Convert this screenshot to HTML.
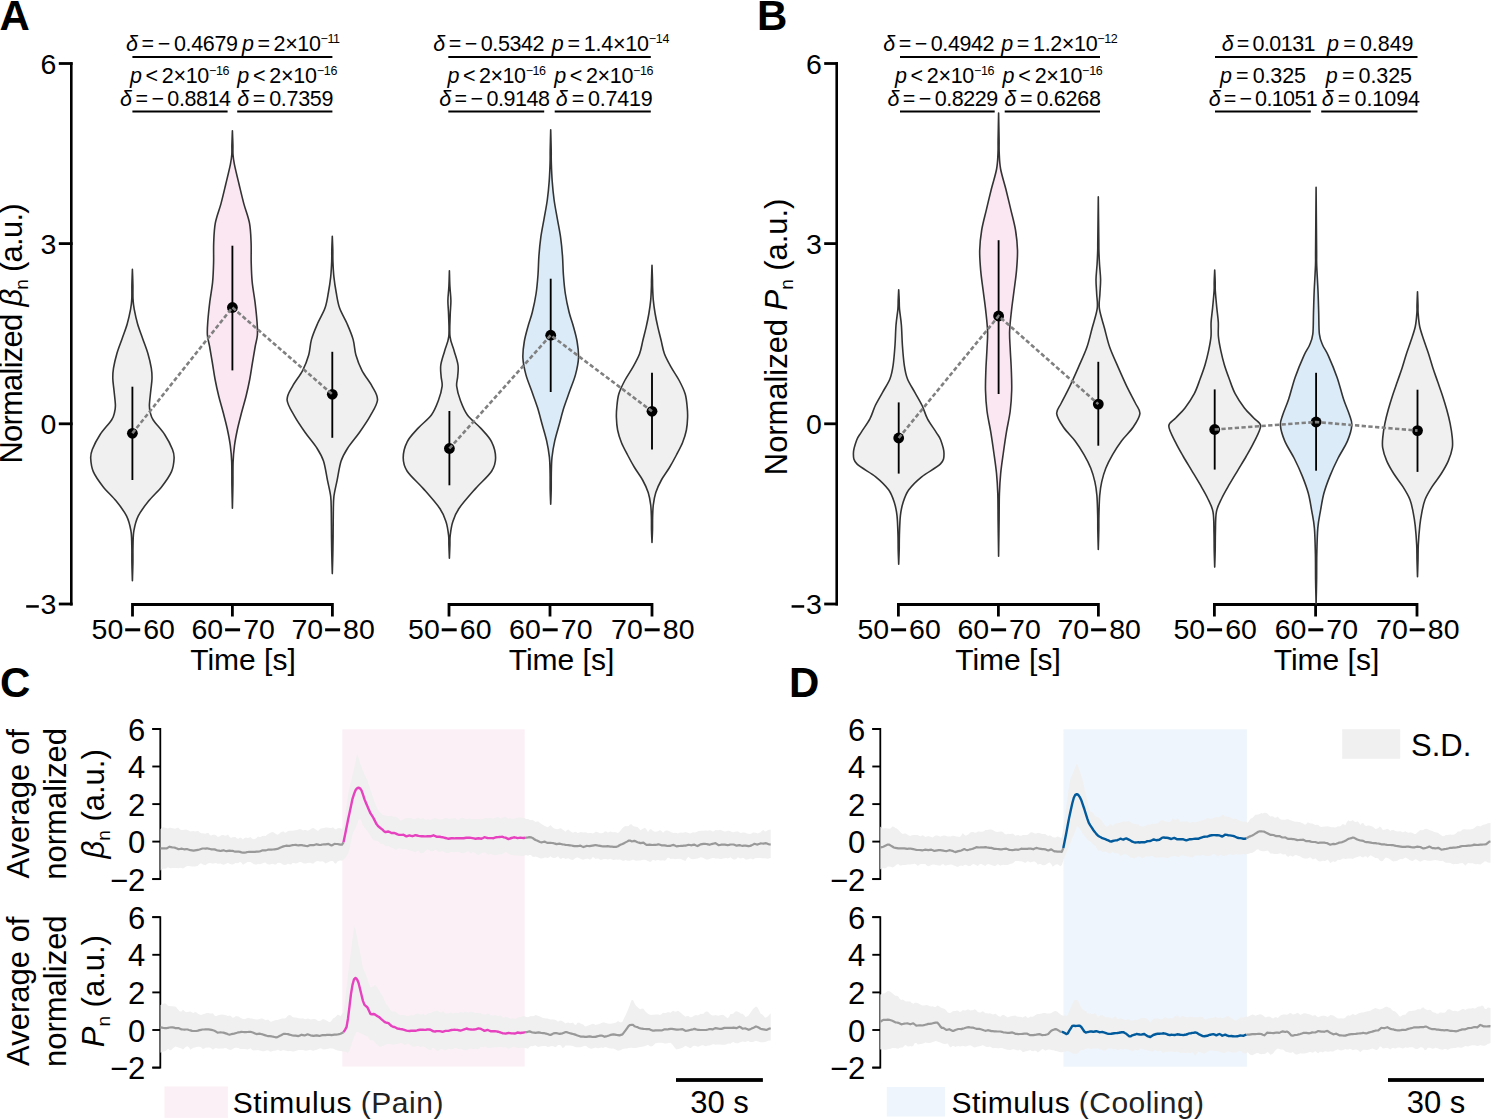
<!DOCTYPE html><html><head><meta charset="utf-8"><style>html,body{margin:0;padding:0;background:#fff;width:1500px;height:1120px;overflow:hidden}svg{display:block}text{font-family:"Liberation Sans", sans-serif}</style></head><body>
<svg width="1500" height="1120" viewBox="0 0 1500 1120">
<rect width="1500" height="1120" fill="#fff"/>
<text x="-0.5" y="30" font-size="42" font-weight="bold">A</text>
<text x="757" y="30" font-size="42" font-weight="bold">B</text>
<text x="0" y="697" font-size="42" font-weight="bold">C</text>
<text x="789" y="697" font-size="42" font-weight="bold">D</text>
<line x1="71.3" y1="62.2" x2="71.3" y2="605.4" stroke="#000" stroke-width="2.6"/>
<line x1="58.8" y1="63.5" x2="72.6" y2="63.5" stroke="#000" stroke-width="2.8"/>
<text x="56.4" y="73.8" font-size="28.5" text-anchor="end">6</text>
<line x1="58.8" y1="243.6" x2="72.6" y2="243.6" stroke="#000" stroke-width="2.8"/>
<text x="56.4" y="253.9" font-size="28.5" text-anchor="end">3</text>
<line x1="58.8" y1="423.8" x2="72.6" y2="423.8" stroke="#000" stroke-width="2.8"/>
<text x="56.4" y="434.1" font-size="28.5" text-anchor="end">0</text>
<line x1="58.8" y1="604.0" x2="72.6" y2="604.0" stroke="#000" stroke-width="2.8"/>
<text x="56.4" y="614.3" font-size="28.5" text-anchor="end">3</text>
<rect x="26.2" y="605.2" width="12.6" height="2.5" fill="#000"/>
<line x1="836.7" y1="62.2" x2="836.7" y2="605.4" stroke="#000" stroke-width="2.6"/>
<line x1="824.2" y1="63.5" x2="838.0" y2="63.5" stroke="#000" stroke-width="2.8"/>
<text x="821.8" y="73.8" font-size="28.5" text-anchor="end">6</text>
<line x1="824.2" y1="243.6" x2="838.0" y2="243.6" stroke="#000" stroke-width="2.8"/>
<text x="821.8" y="253.9" font-size="28.5" text-anchor="end">3</text>
<line x1="824.2" y1="423.8" x2="838.0" y2="423.8" stroke="#000" stroke-width="2.8"/>
<text x="821.8" y="434.1" font-size="28.5" text-anchor="end">0</text>
<line x1="824.2" y1="604.0" x2="838.0" y2="604.0" stroke="#000" stroke-width="2.8"/>
<text x="821.8" y="614.3" font-size="28.5" text-anchor="end">3</text>
<rect x="791.6" y="605.2" width="12.6" height="2.5" fill="#000"/>
<path d="M132.5,616.5 V604.5 H332.4 V616.5" fill="none" stroke="#000" stroke-width="2.8" stroke-linejoin="miter"/>
<line x1="232.4" y1="604.5" x2="232.4" y2="616.5" stroke="#000" stroke-width="2.8"/>
<text x="123.3" y="639.2" font-size="28.5" text-anchor="end">50</text>
<rect x="125.2" y="628.3" width="15" height="3" fill="#000"/>
<text x="143.2" y="639.2" font-size="28.5">60</text>
<text x="223.2" y="639.2" font-size="28.5" text-anchor="end">60</text>
<rect x="225.1" y="628.3" width="15" height="3" fill="#000"/>
<text x="243.2" y="639.2" font-size="28.5">70</text>
<text x="323.2" y="639.2" font-size="28.5" text-anchor="end">70</text>
<rect x="325.1" y="628.3" width="15" height="3" fill="#000"/>
<text x="343.1" y="639.2" font-size="28.5">80</text>
<text x="243.0" y="670" font-size="30" text-anchor="middle">Time [s]</text>
<path d="M449.0,616.5 V604.5 H652.0 V616.5" fill="none" stroke="#000" stroke-width="2.8" stroke-linejoin="miter"/>
<line x1="550.0" y1="604.5" x2="550.0" y2="616.5" stroke="#000" stroke-width="2.8"/>
<text x="439.8" y="639.2" font-size="28.5" text-anchor="end">50</text>
<rect x="441.7" y="628.3" width="15" height="3" fill="#000"/>
<text x="459.8" y="639.2" font-size="28.5">60</text>
<text x="540.8" y="639.2" font-size="28.5" text-anchor="end">60</text>
<rect x="542.7" y="628.3" width="15" height="3" fill="#000"/>
<text x="560.8" y="639.2" font-size="28.5">70</text>
<text x="642.8" y="639.2" font-size="28.5" text-anchor="end">70</text>
<rect x="644.7" y="628.3" width="15" height="3" fill="#000"/>
<text x="662.8" y="639.2" font-size="28.5">80</text>
<text x="561.5" y="670" font-size="30" text-anchor="middle">Time [s]</text>
<path d="M898.4,616.5 V604.5 H1098.4 V616.5" fill="none" stroke="#000" stroke-width="2.8" stroke-linejoin="miter"/>
<line x1="998.4" y1="604.5" x2="998.4" y2="616.5" stroke="#000" stroke-width="2.8"/>
<text x="889.2" y="639.2" font-size="28.5" text-anchor="end">50</text>
<rect x="891.1" y="628.3" width="15" height="3" fill="#000"/>
<text x="909.1" y="639.2" font-size="28.5">60</text>
<text x="989.2" y="639.2" font-size="28.5" text-anchor="end">60</text>
<rect x="991.1" y="628.3" width="15" height="3" fill="#000"/>
<text x="1009.1" y="639.2" font-size="28.5">70</text>
<text x="1089.2" y="639.2" font-size="28.5" text-anchor="end">70</text>
<rect x="1091.1" y="628.3" width="15" height="3" fill="#000"/>
<text x="1109.2" y="639.2" font-size="28.5">80</text>
<text x="1008.0" y="670" font-size="30" text-anchor="middle">Time [s]</text>
<path d="M1214.4,616.5 V604.5 H1417.0 V616.5" fill="none" stroke="#000" stroke-width="2.8" stroke-linejoin="miter"/>
<line x1="1315.6" y1="604.5" x2="1315.6" y2="616.5" stroke="#000" stroke-width="2.8"/>
<text x="1205.2" y="639.2" font-size="28.5" text-anchor="end">50</text>
<rect x="1207.1" y="628.3" width="15" height="3" fill="#000"/>
<text x="1225.2" y="639.2" font-size="28.5">60</text>
<text x="1306.4" y="639.2" font-size="28.5" text-anchor="end">60</text>
<rect x="1308.3" y="628.3" width="15" height="3" fill="#000"/>
<text x="1326.3" y="639.2" font-size="28.5">70</text>
<text x="1407.8" y="639.2" font-size="28.5" text-anchor="end">70</text>
<rect x="1409.7" y="628.3" width="15" height="3" fill="#000"/>
<text x="1427.8" y="639.2" font-size="28.5">80</text>
<text x="1326.5" y="670" font-size="30" text-anchor="middle">Time [s]</text>
<path d="M132.40,269.40 C132.48,272.00 132.80,280.08 132.90,285.00 C133.00,289.92 132.78,294.87 133.00,298.90 C133.22,302.93 133.43,305.02 134.20,309.20 C134.97,313.38 136.18,319.08 137.60,324.00 C139.02,328.92 140.98,333.78 142.70,338.70 C144.42,343.62 146.47,348.58 147.90,353.50 C149.33,358.42 150.62,364.02 151.30,368.20 C151.98,372.38 152.08,374.90 152.00,378.60 C151.92,382.30 151.23,385.98 150.80,390.40 C150.37,394.82 149.48,401.42 149.40,405.10 C149.32,408.78 149.67,410.02 150.30,412.50 C150.93,414.98 150.78,416.30 153.20,420.00 C155.62,423.70 161.58,429.78 164.80,434.70 C168.02,439.62 170.95,445.57 172.50,449.50 C174.05,453.43 174.27,454.62 174.10,458.30 C173.93,461.98 173.53,466.92 171.50,471.60 C169.47,476.28 165.72,481.48 161.90,486.40 C158.08,491.32 152.53,496.18 148.60,501.10 C144.67,506.02 140.75,510.98 138.30,515.90 C135.85,520.82 134.78,525.68 133.90,530.60 C133.02,535.52 133.17,540.00 133.00,545.40 C132.83,550.80 133.00,557.10 132.90,563.00 C132.80,568.90 132.48,577.83 132.40,580.80 L132.40,580.80 C132.32,577.83 132.00,568.90 131.90,563.00 C131.80,557.10 131.97,550.80 131.80,545.40 C131.63,540.00 131.78,535.52 130.90,530.60 C130.02,525.68 128.95,520.82 126.50,515.90 C124.05,510.98 120.13,506.02 116.20,501.10 C112.27,496.18 106.72,491.32 102.90,486.40 C99.08,481.48 95.33,476.28 93.30,471.60 C91.27,466.92 90.87,461.98 90.70,458.30 C90.53,454.62 90.75,453.43 92.30,449.50 C93.85,445.57 96.78,439.62 100.00,434.70 C103.22,429.78 109.18,423.70 111.60,420.00 C114.02,416.30 113.87,414.98 114.50,412.50 C115.13,410.02 115.48,408.78 115.40,405.10 C115.32,401.42 114.43,394.82 114.00,390.40 C113.57,385.98 112.88,382.30 112.80,378.60 C112.72,374.90 112.82,372.38 113.50,368.20 C114.18,364.02 115.47,358.42 116.90,353.50 C118.33,348.58 120.38,343.62 122.10,338.70 C123.82,333.78 125.78,328.92 127.20,324.00 C128.62,319.08 129.83,313.38 130.60,309.20 C131.37,305.02 131.58,302.93 131.80,298.90 C132.02,294.87 131.80,289.92 131.90,285.00 C132.00,280.08 132.32,272.00 132.40,269.40 Z" fill="#f0f0f0" stroke="#333" stroke-width="1.6" stroke-linejoin="round"/>
<path d="M232.40,130.90 C232.48,133.25 232.80,141.07 232.90,145.00 C233.00,148.93 232.75,151.28 233.00,154.50 C233.25,157.72 233.40,159.38 234.40,164.30 C235.40,169.22 237.43,177.45 239.00,184.00 C240.57,190.55 242.05,197.07 243.80,203.60 C245.55,210.13 248.28,216.65 249.50,223.20 C250.72,229.75 250.82,236.35 251.10,242.90 C251.38,249.45 251.02,255.95 251.20,262.50 C251.38,269.05 251.57,275.65 252.20,282.20 C252.83,288.75 254.20,295.25 255.00,301.80 C255.80,308.35 256.60,315.97 257.00,321.50 C257.40,327.03 257.70,330.83 257.40,335.00 C257.10,339.17 256.03,341.83 255.20,346.50 C254.37,351.17 253.32,357.50 252.40,363.00 C251.48,368.50 250.75,374.00 249.70,379.50 C248.65,385.00 247.45,390.50 246.10,396.00 C244.75,401.50 243.03,407.00 241.60,412.50 C240.17,418.00 238.68,423.50 237.50,429.00 C236.32,434.50 235.23,440.00 234.50,445.50 C233.77,451.00 233.37,455.42 233.10,462.00 C232.83,468.58 233.02,477.30 232.90,485.00 C232.78,492.70 232.48,504.33 232.40,508.20 L232.40,508.20 C232.32,504.33 232.02,492.70 231.90,485.00 C231.78,477.30 231.97,468.58 231.70,462.00 C231.43,455.42 231.03,451.00 230.30,445.50 C229.57,440.00 228.48,434.50 227.30,429.00 C226.12,423.50 224.63,418.00 223.20,412.50 C221.77,407.00 220.05,401.50 218.70,396.00 C217.35,390.50 216.15,385.00 215.10,379.50 C214.05,374.00 213.32,368.50 212.40,363.00 C211.48,357.50 210.43,351.17 209.60,346.50 C208.77,341.83 207.70,339.17 207.40,335.00 C207.10,330.83 207.40,327.03 207.80,321.50 C208.20,315.97 209.00,308.35 209.80,301.80 C210.60,295.25 211.97,288.75 212.60,282.20 C213.23,275.65 213.42,269.05 213.60,262.50 C213.78,255.95 213.42,249.45 213.70,242.90 C213.98,236.35 214.08,229.75 215.30,223.20 C216.52,216.65 219.25,210.13 221.00,203.60 C222.75,197.07 224.23,190.55 225.80,184.00 C227.37,177.45 229.40,169.22 230.40,164.30 C231.40,159.38 231.55,157.72 231.80,154.50 C232.05,151.28 231.80,148.93 231.90,145.00 C232.00,141.07 232.32,133.25 232.40,130.90 Z" fill="#fbe7f2" stroke="#333" stroke-width="1.6" stroke-linejoin="round"/>
<path d="M332.30,236.30 C332.38,238.58 332.70,245.83 332.80,250.00 C332.90,254.17 332.72,256.82 332.90,261.30 C333.08,265.78 333.35,271.70 333.90,276.90 C334.45,282.10 335.25,287.30 336.20,292.50 C337.15,297.70 337.78,302.88 339.60,308.10 C341.42,313.32 344.85,318.58 347.10,323.80 C349.35,329.02 351.63,334.20 353.10,339.40 C354.57,344.60 354.42,349.80 355.90,355.00 C357.38,360.20 359.30,365.38 362.00,370.60 C364.70,375.82 369.52,381.40 372.10,386.30 C374.68,391.20 377.83,395.03 377.50,400.00 C377.17,404.97 373.08,410.73 370.10,416.10 C367.12,421.47 363.35,426.85 359.60,432.20 C355.85,437.55 350.68,443.38 347.60,448.20 C344.52,453.02 342.85,455.73 341.10,461.10 C339.35,466.47 338.30,474.50 337.10,480.40 C335.90,486.30 334.53,491.15 333.90,496.50 C333.27,501.85 333.43,505.80 333.30,512.50 C333.17,519.20 333.18,529.62 333.10,536.70 C333.02,543.78 332.93,548.85 332.80,555.00 C332.67,561.15 332.38,570.50 332.30,573.60 L332.30,573.60 C332.22,570.50 331.93,561.15 331.80,555.00 C331.67,548.85 331.58,543.78 331.50,536.70 C331.42,529.62 331.43,519.20 331.30,512.50 C331.17,505.80 331.33,501.85 330.70,496.50 C330.07,491.15 328.70,486.30 327.50,480.40 C326.30,474.50 325.25,466.47 323.50,461.10 C321.75,455.73 320.08,453.02 317.00,448.20 C313.92,443.38 308.75,437.55 305.00,432.20 C301.25,426.85 297.48,421.47 294.50,416.10 C291.52,410.73 287.43,404.97 287.10,400.00 C286.77,395.03 289.92,391.20 292.50,386.30 C295.08,381.40 299.90,375.82 302.60,370.60 C305.30,365.38 307.22,360.20 308.70,355.00 C310.18,349.80 310.03,344.60 311.50,339.40 C312.97,334.20 315.25,329.02 317.50,323.80 C319.75,318.58 323.18,313.32 325.00,308.10 C326.82,302.88 327.45,297.70 328.40,292.50 C329.35,287.30 330.15,282.10 330.70,276.90 C331.25,271.70 331.52,265.78 331.70,261.30 C331.88,256.82 331.70,254.17 331.80,250.00 C331.90,245.83 332.22,238.58 332.30,236.30 Z" fill="#f0f0f0" stroke="#333" stroke-width="1.6" stroke-linejoin="round"/>
<path d="M449.40,270.70 C449.48,273.32 449.65,281.40 449.90,286.40 C450.15,291.40 450.85,295.93 450.90,300.70 C450.95,305.47 450.35,309.05 450.20,315.00 C450.05,320.95 449.35,330.45 450.00,336.40 C450.65,342.35 452.77,345.93 454.10,350.70 C455.43,355.47 457.40,360.72 458.00,365.00 C458.60,369.28 457.92,372.83 457.70,376.40 C457.48,379.97 456.23,382.35 456.70,386.40 C457.17,390.45 458.72,395.93 460.50,400.70 C462.28,405.47 464.00,410.38 467.40,415.00 C470.80,419.62 476.87,423.93 480.90,428.40 C484.93,432.87 489.15,436.90 491.60,441.80 C494.05,446.70 495.60,452.90 495.60,457.80 C495.60,462.70 494.95,466.07 491.60,471.20 C488.25,476.33 480.97,482.35 475.50,488.60 C470.03,494.85 462.60,503.12 458.80,508.70 C455.00,514.28 454.13,517.63 452.70,522.10 C451.27,526.57 450.67,531.68 450.20,535.50 C449.73,539.32 450.03,541.22 449.90,545.00 C449.77,548.78 449.48,556.00 449.40,558.20 L449.40,558.20 C449.32,556.00 449.03,548.78 448.90,545.00 C448.77,541.22 449.07,539.32 448.60,535.50 C448.13,531.68 447.53,526.57 446.10,522.10 C444.67,517.63 443.80,514.28 440.00,508.70 C436.20,503.12 428.77,494.85 423.30,488.60 C417.83,482.35 410.55,476.33 407.20,471.20 C403.85,466.07 403.20,462.70 403.20,457.80 C403.20,452.90 404.75,446.70 407.20,441.80 C409.65,436.90 413.87,432.87 417.90,428.40 C421.93,423.93 428.00,419.62 431.40,415.00 C434.80,410.38 436.52,405.47 438.30,400.70 C440.08,395.93 441.63,390.45 442.10,386.40 C442.57,382.35 441.32,379.97 441.10,376.40 C440.88,372.83 440.20,369.28 440.80,365.00 C441.40,360.72 443.37,355.47 444.70,350.70 C446.03,345.93 448.15,342.35 448.80,336.40 C449.45,330.45 448.75,320.95 448.60,315.00 C448.45,309.05 447.85,305.47 447.90,300.70 C447.95,295.93 448.65,291.40 448.90,286.40 C449.15,281.40 449.32,273.32 449.40,270.70 Z" fill="#f0f0f0" stroke="#333" stroke-width="1.6" stroke-linejoin="round"/>
<path d="M550.70,129.70 C550.78,133.08 551.10,144.53 551.20,150.00 C551.30,155.47 551.13,157.30 551.30,162.50 C551.47,167.70 551.73,174.95 552.20,181.20 C552.67,187.45 553.25,193.77 554.10,200.00 C554.95,206.23 556.22,212.37 557.30,218.60 C558.38,224.83 559.73,231.15 560.60,237.40 C561.47,243.65 562.03,249.87 562.50,256.10 C562.97,262.33 562.93,268.57 563.40,274.80 C563.87,281.03 564.35,287.25 565.30,293.50 C566.25,299.75 567.82,307.05 569.10,312.30 C570.38,317.55 571.67,320.13 573.00,325.00 C574.33,329.87 576.18,336.00 577.10,341.50 C578.02,347.00 578.77,352.48 578.50,358.00 C578.23,363.52 576.97,369.08 575.50,374.60 C574.03,380.12 571.63,385.60 569.70,391.10 C567.77,396.60 565.63,402.08 563.90,407.60 C562.17,413.12 560.82,418.68 559.30,424.20 C557.78,429.72 556.02,435.20 554.80,440.70 C553.58,446.20 552.58,451.68 552.00,457.20 C551.42,462.72 551.43,468.33 551.30,473.80 C551.17,479.27 551.30,484.92 551.20,490.00 C551.10,495.08 550.78,501.92 550.70,504.30 L550.70,504.30 C550.62,501.92 550.30,495.08 550.20,490.00 C550.10,484.92 550.23,479.27 550.10,473.80 C549.97,468.33 549.98,462.72 549.40,457.20 C548.82,451.68 547.82,446.20 546.60,440.70 C545.38,435.20 543.62,429.72 542.10,424.20 C540.58,418.68 539.23,413.12 537.50,407.60 C535.77,402.08 533.63,396.60 531.70,391.10 C529.77,385.60 527.37,380.12 525.90,374.60 C524.43,369.08 523.17,363.52 522.90,358.00 C522.63,352.48 523.38,347.00 524.30,341.50 C525.22,336.00 527.07,329.87 528.40,325.00 C529.73,320.13 531.02,317.55 532.30,312.30 C533.58,307.05 535.15,299.75 536.10,293.50 C537.05,287.25 537.53,281.03 538.00,274.80 C538.47,268.57 538.43,262.33 538.90,256.10 C539.37,249.87 539.93,243.65 540.80,237.40 C541.67,231.15 543.02,224.83 544.10,218.60 C545.18,212.37 546.45,206.23 547.30,200.00 C548.15,193.77 548.73,187.45 549.20,181.20 C549.67,174.95 549.93,167.70 550.10,162.50 C550.27,157.30 550.10,155.47 550.20,150.00 C550.30,144.53 550.62,133.08 550.70,129.70 Z" fill="#dcebf8" stroke="#333" stroke-width="1.6" stroke-linejoin="round"/>
<path d="M652.00,265.40 C652.08,267.83 652.40,276.43 652.50,280.00 C652.60,283.57 652.47,283.43 652.60,286.80 C652.73,290.17 652.88,295.75 653.30,300.20 C653.72,304.65 654.35,309.05 655.10,313.50 C655.85,317.95 656.80,322.43 657.80,326.90 C658.80,331.37 660.00,335.83 661.10,340.30 C662.20,344.77 662.73,349.23 664.40,353.70 C666.07,358.17 668.63,362.63 671.10,367.10 C673.57,371.57 676.85,376.03 679.20,380.50 C681.55,384.97 683.87,389.43 685.20,393.90 C686.53,398.37 686.80,403.37 687.20,407.30 C687.60,411.23 687.73,413.72 687.60,417.50 C687.47,421.28 687.23,425.83 686.40,430.00 C685.57,434.17 684.27,438.33 682.60,442.50 C680.93,446.67 678.58,450.83 676.40,455.00 C674.22,459.17 672.00,463.33 669.50,467.50 C667.00,471.67 663.68,475.83 661.40,480.00 C659.12,484.17 657.15,488.33 655.80,492.50 C654.45,496.67 653.83,500.83 653.30,505.00 C652.77,509.17 652.73,513.33 652.60,517.50 C652.47,521.67 652.60,525.83 652.50,530.00 C652.40,534.17 652.08,540.42 652.00,542.50 L652.00,542.50 C651.92,540.42 651.60,534.17 651.50,530.00 C651.40,525.83 651.53,521.67 651.40,517.50 C651.27,513.33 651.23,509.17 650.70,505.00 C650.17,500.83 649.55,496.67 648.20,492.50 C646.85,488.33 644.88,484.17 642.60,480.00 C640.32,475.83 637.00,471.67 634.50,467.50 C632.00,463.33 629.78,459.17 627.60,455.00 C625.42,450.83 623.07,446.67 621.40,442.50 C619.73,438.33 618.43,434.17 617.60,430.00 C616.77,425.83 616.53,421.28 616.40,417.50 C616.27,413.72 616.40,411.23 616.80,407.30 C617.20,403.37 617.47,398.37 618.80,393.90 C620.13,389.43 622.45,384.97 624.80,380.50 C627.15,376.03 630.43,371.57 632.90,367.10 C635.37,362.63 637.93,358.17 639.60,353.70 C641.27,349.23 641.80,344.77 642.90,340.30 C644.00,335.83 645.20,331.37 646.20,326.90 C647.20,322.43 648.15,317.95 648.90,313.50 C649.65,309.05 650.28,304.65 650.70,300.20 C651.12,295.75 651.27,290.17 651.40,286.80 C651.53,283.43 651.40,283.57 651.50,280.00 C651.60,276.43 651.92,267.83 652.00,265.40 Z" fill="#f0f0f0" stroke="#333" stroke-width="1.6" stroke-linejoin="round"/>
<path d="M898.70,289.70 C898.78,291.42 899.07,296.77 899.20,300.00 C899.33,303.23 899.13,304.90 899.50,309.10 C899.87,313.30 900.92,319.18 901.40,325.20 C901.88,331.22 901.92,338.52 902.40,345.20 C902.88,351.88 903.47,359.72 904.30,365.30 C905.13,370.88 905.67,374.23 907.40,378.70 C909.13,383.17 912.25,387.63 914.70,392.10 C917.15,396.57 919.97,401.03 922.10,405.50 C924.23,409.97 925.15,414.43 927.50,418.90 C929.85,423.37 934.00,428.78 936.20,432.30 C938.40,435.82 939.40,436.47 940.70,440.00 C942.00,443.53 944.03,449.52 944.00,453.50 C943.97,457.48 944.22,460.02 940.50,463.90 C936.78,467.78 926.98,472.48 921.70,476.80 C916.42,481.12 911.92,485.48 908.80,489.80 C905.68,494.12 904.40,498.38 903.00,502.70 C901.60,507.02 901.00,510.30 900.40,515.70 C899.80,521.10 899.60,529.38 899.40,535.10 C899.20,540.82 899.32,545.15 899.20,550.00 C899.08,554.85 898.78,561.83 898.70,564.20 L898.70,564.20 C898.62,561.83 898.32,554.85 898.20,550.00 C898.08,545.15 898.20,540.82 898.00,535.10 C897.80,529.38 897.60,521.10 897.00,515.70 C896.40,510.30 895.80,507.02 894.40,502.70 C893.00,498.38 891.72,494.12 888.60,489.80 C885.48,485.48 880.98,481.12 875.70,476.80 C870.42,472.48 860.62,467.78 856.90,463.90 C853.18,460.02 853.43,457.48 853.40,453.50 C853.37,449.52 855.40,443.53 856.70,440.00 C858.00,436.47 859.00,435.82 861.20,432.30 C863.40,428.78 867.55,423.37 869.90,418.90 C872.25,414.43 873.17,409.97 875.30,405.50 C877.43,401.03 880.25,396.57 882.70,392.10 C885.15,387.63 888.27,383.17 890.00,378.70 C891.73,374.23 892.27,370.88 893.10,365.30 C893.93,359.72 894.52,351.88 895.00,345.20 C895.48,338.52 895.52,331.22 896.00,325.20 C896.48,319.18 897.53,313.30 897.90,309.10 C898.27,304.90 898.07,303.23 898.20,300.00 C898.33,296.77 898.62,291.42 898.70,289.70 Z" fill="#f0f0f0" stroke="#333" stroke-width="1.6" stroke-linejoin="round"/>
<path d="M998.60,113.10 C998.68,117.58 999.00,133.40 999.10,140.00 C999.20,146.60 998.95,147.87 999.20,152.70 C999.45,157.53 999.48,162.90 1000.60,169.00 C1001.72,175.10 1004.20,182.53 1005.90,189.30 C1007.60,196.07 1009.20,202.82 1010.80,209.60 C1012.40,216.38 1014.38,223.22 1015.50,230.00 C1016.62,236.78 1017.33,243.53 1017.50,250.30 C1017.67,257.07 1017.08,263.83 1016.50,270.60 C1015.92,277.37 1014.85,284.12 1014.00,290.90 C1013.15,297.68 1012.13,304.52 1011.40,311.30 C1010.67,318.08 1009.80,325.37 1009.60,331.60 C1009.40,337.83 1009.92,342.38 1010.20,348.70 C1010.48,355.02 1011.05,362.58 1011.30,369.50 C1011.55,376.42 1011.88,383.28 1011.70,390.20 C1011.52,397.12 1011.07,404.08 1010.20,411.00 C1009.33,417.92 1007.63,424.78 1006.50,431.70 C1005.37,438.62 1004.37,445.58 1003.40,452.50 C1002.43,459.42 1001.37,466.28 1000.70,473.20 C1000.03,480.12 999.67,486.20 999.40,494.00 C999.13,501.80 999.23,509.63 999.10,520.00 C998.97,530.37 998.68,550.17 998.60,556.20 L998.60,556.20 C998.52,550.17 998.23,530.37 998.10,520.00 C997.97,509.63 998.07,501.80 997.80,494.00 C997.53,486.20 997.17,480.12 996.50,473.20 C995.83,466.28 994.77,459.42 993.80,452.50 C992.83,445.58 991.83,438.62 990.70,431.70 C989.57,424.78 987.87,417.92 987.00,411.00 C986.13,404.08 985.68,397.12 985.50,390.20 C985.32,383.28 985.65,376.42 985.90,369.50 C986.15,362.58 986.72,355.02 987.00,348.70 C987.28,342.38 987.80,337.83 987.60,331.60 C987.40,325.37 986.53,318.08 985.80,311.30 C985.07,304.52 984.05,297.68 983.20,290.90 C982.35,284.12 981.28,277.37 980.70,270.60 C980.12,263.83 979.53,257.07 979.70,250.30 C979.87,243.53 980.58,236.78 981.70,230.00 C982.82,223.22 984.80,216.38 986.40,209.60 C988.00,202.82 989.60,196.07 991.30,189.30 C993.00,182.53 995.48,175.10 996.60,169.00 C997.72,162.90 997.75,157.53 998.00,152.70 C998.25,147.87 998.00,146.60 998.10,140.00 C998.20,133.40 998.52,117.58 998.60,113.10 Z" fill="#fbe7f2" stroke="#333" stroke-width="1.6" stroke-linejoin="round"/>
<path d="M1098.30,196.90 C1098.38,204.08 1098.70,231.08 1098.80,240.00 C1098.90,248.92 1098.78,246.40 1098.90,250.40 C1099.02,254.40 1099.22,259.15 1099.50,264.00 C1099.78,268.85 1100.53,274.50 1100.60,279.50 C1100.67,284.50 1100.10,289.13 1099.90,294.00 C1099.70,298.87 1098.63,303.00 1099.40,308.70 C1100.17,314.40 1102.77,321.72 1104.50,328.20 C1106.23,334.68 1107.53,341.12 1109.80,347.60 C1112.07,354.08 1115.25,360.60 1118.10,367.10 C1120.95,373.60 1124.03,380.62 1126.90,386.60 C1129.77,392.58 1133.13,398.50 1135.30,403.00 C1137.47,407.50 1140.27,409.55 1139.90,413.60 C1139.53,417.65 1136.17,422.75 1133.10,427.30 C1130.03,431.85 1124.92,436.35 1121.50,440.90 C1118.08,445.45 1115.22,450.05 1112.60,454.60 C1109.98,459.15 1107.62,463.65 1105.80,468.20 C1103.98,472.75 1102.72,477.35 1101.70,481.90 C1100.68,486.45 1100.17,489.82 1099.70,495.50 C1099.23,501.18 1099.05,510.25 1098.90,516.00 C1098.75,521.75 1098.90,524.43 1098.80,530.00 C1098.70,535.57 1098.38,546.17 1098.30,549.40 L1098.30,549.40 C1098.22,546.17 1097.90,535.57 1097.80,530.00 C1097.70,524.43 1097.85,521.75 1097.70,516.00 C1097.55,510.25 1097.37,501.18 1096.90,495.50 C1096.43,489.82 1095.92,486.45 1094.90,481.90 C1093.88,477.35 1092.62,472.75 1090.80,468.20 C1088.98,463.65 1086.62,459.15 1084.00,454.60 C1081.38,450.05 1078.52,445.45 1075.10,440.90 C1071.68,436.35 1066.57,431.85 1063.50,427.30 C1060.43,422.75 1057.07,417.65 1056.70,413.60 C1056.33,409.55 1059.13,407.50 1061.30,403.00 C1063.47,398.50 1066.83,392.58 1069.70,386.60 C1072.57,380.62 1075.65,373.60 1078.50,367.10 C1081.35,360.60 1084.53,354.08 1086.80,347.60 C1089.07,341.12 1090.37,334.68 1092.10,328.20 C1093.83,321.72 1096.43,314.40 1097.20,308.70 C1097.97,303.00 1096.90,298.87 1096.70,294.00 C1096.50,289.13 1095.93,284.50 1096.00,279.50 C1096.07,274.50 1096.82,268.85 1097.10,264.00 C1097.38,259.15 1097.58,254.40 1097.70,250.40 C1097.82,246.40 1097.70,248.92 1097.80,240.00 C1097.90,231.08 1098.22,204.08 1098.30,196.90 Z" fill="#f0f0f0" stroke="#333" stroke-width="1.6" stroke-linejoin="round"/>
<path d="M1214.70,270.00 C1214.78,272.00 1215.10,278.55 1215.20,282.00 C1215.30,285.45 1215.03,286.38 1215.30,290.70 C1215.57,295.02 1216.30,302.67 1216.80,307.90 C1217.30,313.13 1218.03,317.35 1218.30,322.10 C1218.57,326.85 1217.98,331.63 1218.40,336.40 C1218.82,341.17 1219.80,345.93 1220.80,350.70 C1221.80,355.47 1222.97,360.23 1224.40,365.00 C1225.83,369.77 1227.62,374.53 1229.40,379.30 C1231.18,384.07 1232.60,388.83 1235.10,393.60 C1237.60,398.37 1241.30,403.83 1244.40,407.90 C1247.50,411.97 1251.00,414.97 1253.70,418.00 C1256.40,421.03 1260.60,421.98 1260.60,426.10 C1260.60,430.22 1256.12,437.63 1253.70,442.70 C1251.28,447.77 1248.75,451.90 1246.10,456.50 C1243.45,461.10 1240.57,465.68 1237.80,470.30 C1235.03,474.92 1232.15,479.58 1229.50,484.20 C1226.85,488.82 1224.08,493.40 1221.90,498.00 C1219.72,502.60 1217.48,506.03 1216.40,511.80 C1215.32,517.57 1215.60,526.23 1215.40,532.60 C1215.20,538.97 1215.32,544.25 1215.20,550.00 C1215.08,555.75 1214.78,564.25 1214.70,567.10 L1214.70,567.10 C1214.62,564.25 1214.32,555.75 1214.20,550.00 C1214.08,544.25 1214.20,538.97 1214.00,532.60 C1213.80,526.23 1214.08,517.57 1213.00,511.80 C1211.92,506.03 1209.68,502.60 1207.50,498.00 C1205.32,493.40 1202.55,488.82 1199.90,484.20 C1197.25,479.58 1194.37,474.92 1191.60,470.30 C1188.83,465.68 1185.95,461.10 1183.30,456.50 C1180.65,451.90 1178.12,447.77 1175.70,442.70 C1173.28,437.63 1168.80,430.22 1168.80,426.10 C1168.80,421.98 1173.00,421.03 1175.70,418.00 C1178.40,414.97 1181.90,411.97 1185.00,407.90 C1188.10,403.83 1191.80,398.37 1194.30,393.60 C1196.80,388.83 1198.22,384.07 1200.00,379.30 C1201.78,374.53 1203.57,369.77 1205.00,365.00 C1206.43,360.23 1207.60,355.47 1208.60,350.70 C1209.60,345.93 1210.58,341.17 1211.00,336.40 C1211.42,331.63 1210.83,326.85 1211.10,322.10 C1211.37,317.35 1212.10,313.13 1212.60,307.90 C1213.10,302.67 1213.83,295.02 1214.10,290.70 C1214.37,286.38 1214.10,285.45 1214.20,282.00 C1214.30,278.55 1214.62,272.00 1214.70,270.00 Z" fill="#f0f0f0" stroke="#333" stroke-width="1.6" stroke-linejoin="round"/>
<path d="M1316.10,187.30 C1316.18,197.75 1316.50,237.03 1316.60,250.00 C1316.70,262.97 1316.47,258.27 1316.70,265.10 C1316.93,271.93 1317.67,283.08 1318.00,291.00 C1318.33,298.92 1318.47,305.40 1318.70,312.60 C1318.93,319.80 1318.75,328.80 1319.40,334.20 C1320.05,339.60 1321.10,341.40 1322.60,345.00 C1324.10,348.60 1325.98,350.40 1328.40,355.80 C1330.82,361.20 1334.58,370.20 1337.10,377.40 C1339.62,384.60 1341.43,392.73 1343.50,399.00 C1345.57,405.27 1348.12,410.60 1349.50,415.00 C1350.88,419.40 1352.15,421.05 1351.80,425.40 C1351.45,429.75 1349.72,435.58 1347.40,441.10 C1345.08,446.62 1340.80,452.70 1337.90,458.50 C1335.00,464.30 1332.33,470.10 1330.00,475.90 C1327.67,481.70 1325.48,487.50 1323.90,493.30 C1322.32,499.10 1321.52,504.90 1320.50,510.70 C1319.48,516.50 1318.42,520.83 1317.80,528.10 C1317.18,535.37 1317.00,545.65 1316.80,554.30 C1316.60,562.95 1316.72,571.73 1316.60,580.00 C1316.48,588.27 1316.18,599.92 1316.10,603.90 L1316.10,603.90 C1316.02,599.92 1315.72,588.27 1315.60,580.00 C1315.48,571.73 1315.60,562.95 1315.40,554.30 C1315.20,545.65 1315.02,535.37 1314.40,528.10 C1313.78,520.83 1312.72,516.50 1311.70,510.70 C1310.68,504.90 1309.88,499.10 1308.30,493.30 C1306.72,487.50 1304.53,481.70 1302.20,475.90 C1299.87,470.10 1297.20,464.30 1294.30,458.50 C1291.40,452.70 1287.12,446.62 1284.80,441.10 C1282.48,435.58 1280.75,429.75 1280.40,425.40 C1280.05,421.05 1281.32,419.40 1282.70,415.00 C1284.08,410.60 1286.63,405.27 1288.70,399.00 C1290.77,392.73 1292.58,384.60 1295.10,377.40 C1297.62,370.20 1301.38,361.20 1303.80,355.80 C1306.22,350.40 1308.10,348.60 1309.60,345.00 C1311.10,341.40 1312.15,339.60 1312.80,334.20 C1313.45,328.80 1313.27,319.80 1313.50,312.60 C1313.73,305.40 1313.87,298.92 1314.20,291.00 C1314.53,283.08 1315.27,271.93 1315.50,265.10 C1315.73,258.27 1315.50,262.97 1315.60,250.00 C1315.70,237.03 1316.02,197.75 1316.10,187.30 Z" fill="#dcebf8" stroke="#333" stroke-width="1.6" stroke-linejoin="round"/>
<path d="M1417.50,291.90 C1417.58,294.08 1417.90,301.53 1418.00,305.00 C1418.10,308.47 1417.82,309.12 1418.10,312.70 C1418.38,316.28 1418.73,321.90 1419.70,326.50 C1420.67,331.10 1422.40,335.68 1423.90,340.30 C1425.40,344.92 1427.20,349.58 1428.70,354.20 C1430.20,358.82 1431.40,363.40 1432.90,368.00 C1434.40,372.60 1436.10,377.18 1437.70,381.80 C1439.30,386.42 1441.00,391.08 1442.50,395.70 C1444.00,400.32 1445.43,404.90 1446.70,409.50 C1447.97,414.10 1449.18,418.70 1450.10,423.30 C1451.02,427.90 1451.83,433.00 1452.20,437.10 C1452.57,441.20 1452.95,443.93 1452.30,447.90 C1451.65,451.87 1450.15,456.58 1448.30,460.90 C1446.45,465.22 1443.90,469.50 1441.20,473.80 C1438.50,478.10 1434.80,482.38 1432.10,486.70 C1429.40,491.02 1426.72,495.38 1425.00,499.70 C1423.28,504.02 1422.67,508.28 1421.80,512.60 C1420.93,516.92 1420.38,520.20 1419.80,525.60 C1419.22,531.00 1418.60,539.27 1418.30,545.00 C1418.00,550.73 1418.13,554.72 1418.00,560.00 C1417.87,565.28 1417.58,573.92 1417.50,576.70 L1417.50,576.70 C1417.42,573.92 1417.13,565.28 1417.00,560.00 C1416.87,554.72 1417.00,550.73 1416.70,545.00 C1416.40,539.27 1415.78,531.00 1415.20,525.60 C1414.62,520.20 1414.07,516.92 1413.20,512.60 C1412.33,508.28 1411.72,504.02 1410.00,499.70 C1408.28,495.38 1405.60,491.02 1402.90,486.70 C1400.20,482.38 1396.50,478.10 1393.80,473.80 C1391.10,469.50 1388.55,465.22 1386.70,460.90 C1384.85,456.58 1383.35,451.87 1382.70,447.90 C1382.05,443.93 1382.43,441.20 1382.80,437.10 C1383.17,433.00 1383.98,427.90 1384.90,423.30 C1385.82,418.70 1387.03,414.10 1388.30,409.50 C1389.57,404.90 1391.00,400.32 1392.50,395.70 C1394.00,391.08 1395.70,386.42 1397.30,381.80 C1398.90,377.18 1400.60,372.60 1402.10,368.00 C1403.60,363.40 1404.80,358.82 1406.30,354.20 C1407.80,349.58 1409.60,344.92 1411.10,340.30 C1412.60,335.68 1414.33,331.10 1415.30,326.50 C1416.27,321.90 1416.62,316.28 1416.90,312.70 C1417.18,309.12 1416.90,308.47 1417.00,305.00 C1417.10,301.53 1417.42,294.08 1417.50,291.90 Z" fill="#f0f0f0" stroke="#333" stroke-width="1.6" stroke-linejoin="round"/>
<line x1="132.4" y1="386.7" x2="132.4" y2="480.0" stroke="#000" stroke-width="1.85"/>
<line x1="232.4" y1="245.7" x2="232.4" y2="370.4" stroke="#000" stroke-width="1.85"/>
<line x1="332.3" y1="351.8" x2="332.3" y2="437.8" stroke="#000" stroke-width="1.85"/>
<line x1="449.4" y1="411.0" x2="449.4" y2="485.3" stroke="#000" stroke-width="1.85"/>
<line x1="550.7" y1="278.7" x2="550.7" y2="392.0" stroke="#000" stroke-width="1.85"/>
<line x1="652.0" y1="372.8" x2="652.0" y2="449.4" stroke="#000" stroke-width="1.85"/>
<line x1="898.7" y1="402.4" x2="898.7" y2="473.6" stroke="#000" stroke-width="1.85"/>
<line x1="998.6" y1="240.2" x2="998.6" y2="394.0" stroke="#000" stroke-width="1.85"/>
<line x1="1098.3" y1="361.8" x2="1098.3" y2="445.7" stroke="#000" stroke-width="1.85"/>
<line x1="1214.7" y1="389.4" x2="1214.7" y2="469.6" stroke="#000" stroke-width="1.85"/>
<line x1="1316.1" y1="372.8" x2="1316.1" y2="470.7" stroke="#000" stroke-width="1.85"/>
<line x1="1417.5" y1="389.7" x2="1417.5" y2="471.9" stroke="#000" stroke-width="1.85"/>
<circle cx="132.4" cy="433.3" r="5.4" fill="#000"/>
<circle cx="232.4" cy="307.5" r="5.4" fill="#000"/>
<circle cx="332.3" cy="394.3" r="5.4" fill="#000"/>
<polyline points="132.4,433.3 232.4,307.5 332.3,394.3" fill="none" stroke="#808080" stroke-width="2.6" stroke-dasharray="4.3 2.4"/>
<circle cx="449.4" cy="448.5" r="5.4" fill="#000"/>
<circle cx="550.7" cy="335.2" r="5.4" fill="#000"/>
<circle cx="652.0" cy="411.3" r="5.4" fill="#000"/>
<polyline points="449.4,448.5 550.7,335.2 652.0,411.3" fill="none" stroke="#808080" stroke-width="2.6" stroke-dasharray="4.3 2.4"/>
<circle cx="898.7" cy="438.0" r="5.4" fill="#000"/>
<circle cx="998.6" cy="316.0" r="5.4" fill="#000"/>
<circle cx="1098.3" cy="404.1" r="5.4" fill="#000"/>
<polyline points="898.7,438.0 998.6,316.0 1098.3,404.1" fill="none" stroke="#808080" stroke-width="2.6" stroke-dasharray="4.3 2.4"/>
<circle cx="1214.7" cy="429.5" r="5.4" fill="#000"/>
<circle cx="1316.1" cy="422.0" r="5.4" fill="#000"/>
<circle cx="1417.5" cy="430.6" r="5.4" fill="#000"/>
<polyline points="1214.7,429.5 1316.1,422.0 1417.5,430.6" fill="none" stroke="#808080" stroke-width="2.6" stroke-dasharray="4.3 2.4"/>
<text x="126.0" y="50.6" font-size="21.5" textLength="112.0" lengthAdjust="spacing"><tspan font-style="italic">δ</tspan><tspan> = </tspan><tspan>− 0.4679</tspan></text>
<text x="242.0" y="50.6" font-size="21.5" textLength="98.0" lengthAdjust="spacing"><tspan font-style="italic">p</tspan><tspan> = </tspan><tspan>2×10</tspan><tspan font-size="12.5" dy="-7.5">−11</tspan></text>
<text x="130.0" y="82.6" font-size="21.5" textLength="99.5" lengthAdjust="spacing"><tspan font-style="italic">p</tspan><tspan> < </tspan><tspan>2×10</tspan><tspan font-size="12.5" dy="-7.5">−16</tspan></text>
<text x="237.2" y="82.6" font-size="21.5" textLength="100.3" lengthAdjust="spacing"><tspan font-style="italic">p</tspan><tspan> < </tspan><tspan>2×10</tspan><tspan font-size="12.5" dy="-7.5">−16</tspan></text>
<text x="120.0" y="105.6" font-size="21.5" textLength="111.0" lengthAdjust="spacing"><tspan font-style="italic">δ</tspan><tspan> = </tspan><tspan>− 0.8814</tspan></text>
<text x="237.2" y="105.6" font-size="21.5" textLength="96.3" lengthAdjust="spacing"><tspan font-style="italic">δ</tspan><tspan> = </tspan><tspan>0.7359</tspan></text>
<line x1="132.4" y1="57.0" x2="332.4" y2="57.0" stroke="#000" stroke-width="2.2"/>
<line x1="132.4" y1="111.5" x2="227.6" y2="111.5" stroke="#000" stroke-width="2.2"/>
<line x1="237.2" y1="111.5" x2="332.4" y2="111.5" stroke="#000" stroke-width="2.2"/>
<text x="433.3" y="50.6" font-size="21.5" textLength="111.2" lengthAdjust="spacing"><tspan font-style="italic">δ</tspan><tspan> = </tspan><tspan>− 0.5342</tspan></text>
<text x="551.7" y="50.6" font-size="21.5" textLength="117.8" lengthAdjust="spacing"><tspan font-style="italic">p</tspan><tspan> = </tspan><tspan>1.4×10</tspan><tspan font-size="12.5" dy="-7.5">−14</tspan></text>
<text x="447.5" y="82.6" font-size="21.5" textLength="98.5" lengthAdjust="spacing"><tspan font-style="italic">p</tspan><tspan> < </tspan><tspan>2×10</tspan><tspan font-size="12.5" dy="-7.5">−16</tspan></text>
<text x="554.2" y="82.6" font-size="21.5" textLength="99.3" lengthAdjust="spacing"><tspan font-style="italic">p</tspan><tspan> < </tspan><tspan>2×10</tspan><tspan font-size="12.5" dy="-7.5">−16</tspan></text>
<text x="439.2" y="105.6" font-size="21.5" textLength="110.8" lengthAdjust="spacing"><tspan font-style="italic">δ</tspan><tspan> = </tspan><tspan>− 0.9148</tspan></text>
<text x="555.8" y="105.6" font-size="21.5" textLength="97.0" lengthAdjust="spacing"><tspan font-style="italic">δ</tspan><tspan> = </tspan><tspan>0.7419</tspan></text>
<line x1="448.3" y1="57.0" x2="650.8" y2="57.0" stroke="#000" stroke-width="2.2"/>
<line x1="448.3" y1="111.5" x2="544.2" y2="111.5" stroke="#000" stroke-width="2.2"/>
<line x1="554.7" y1="111.5" x2="650.8" y2="111.5" stroke="#000" stroke-width="2.2"/>
<text x="883.3" y="50.6" font-size="21.5" textLength="111.2" lengthAdjust="spacing"><tspan font-style="italic">δ</tspan><tspan> = </tspan><tspan>− 0.4942</tspan></text>
<text x="1001.3" y="50.6" font-size="21.5" textLength="116.5" lengthAdjust="spacing"><tspan font-style="italic">p</tspan><tspan> = </tspan><tspan>1.2×10</tspan><tspan font-size="12.5" dy="-7.5">−12</tspan></text>
<text x="895.0" y="82.6" font-size="21.5" textLength="99.5" lengthAdjust="spacing"><tspan font-style="italic">p</tspan><tspan> < </tspan><tspan>2×10</tspan><tspan font-size="12.5" dy="-7.5">−16</tspan></text>
<text x="1002.5" y="82.6" font-size="21.5" textLength="100.3" lengthAdjust="spacing"><tspan font-style="italic">p</tspan><tspan> < </tspan><tspan>2×10</tspan><tspan font-size="12.5" dy="-7.5">−16</tspan></text>
<text x="887.5" y="105.6" font-size="21.5" textLength="110.8" lengthAdjust="spacing"><tspan font-style="italic">δ</tspan><tspan> = </tspan><tspan>− 0.8229</tspan></text>
<text x="1004.2" y="105.6" font-size="21.5" textLength="96.8" lengthAdjust="spacing"><tspan font-style="italic">δ</tspan><tspan> = </tspan><tspan>0.6268</tspan></text>
<line x1="900.0" y1="57.0" x2="1100.0" y2="57.0" stroke="#000" stroke-width="2.2"/>
<line x1="900.0" y1="111.5" x2="994.7" y2="111.5" stroke="#000" stroke-width="2.2"/>
<line x1="1004.7" y1="111.5" x2="1100.0" y2="111.5" stroke="#000" stroke-width="2.2"/>
<text x="1221.7" y="50.6" font-size="21.5" textLength="93.8" lengthAdjust="spacing"><tspan font-style="italic">δ</tspan><tspan> = </tspan><tspan>0.0131</tspan></text>
<text x="1327.0" y="50.6" font-size="21.5" textLength="86.5" lengthAdjust="spacing"><tspan font-style="italic">p</tspan><tspan> = </tspan><tspan>0.849</tspan></text>
<text x="1220.0" y="82.6" font-size="21.5" textLength="86.0" lengthAdjust="spacing"><tspan font-style="italic">p</tspan><tspan> = </tspan><tspan>0.325</tspan></text>
<text x="1325.8" y="82.6" font-size="21.5" textLength="86.2" lengthAdjust="spacing"><tspan font-style="italic">p</tspan><tspan> = </tspan><tspan>0.325</tspan></text>
<text x="1208.7" y="105.6" font-size="21.5" textLength="109.1" lengthAdjust="spacing"><tspan font-style="italic">δ</tspan><tspan> = </tspan><tspan>− 0.1051</tspan></text>
<text x="1321.7" y="105.6" font-size="21.5" textLength="98.3" lengthAdjust="spacing"><tspan font-style="italic">δ</tspan><tspan> = </tspan><tspan>0.1094</tspan></text>
<line x1="1215.0" y1="57.0" x2="1417.5" y2="57.0" stroke="#000" stroke-width="2.2"/>
<line x1="1215.0" y1="111.5" x2="1310.8" y2="111.5" stroke="#000" stroke-width="2.2"/>
<line x1="1321.2" y1="111.5" x2="1417.5" y2="111.5" stroke="#000" stroke-width="2.2"/>
<text transform="translate(22.4,463.6) rotate(-90)" font-size="31" textLength="260.2" lengthAdjust="spacing">Normalized <tspan font-style="italic">β</tspan><tspan font-size="19" dy="6">n</tspan><tspan dy="-6"> (a.u.)</tspan></text>
<text transform="translate(786.5,475.2) rotate(-90)" font-size="31" textLength="276.6" lengthAdjust="spacing">Normalized <tspan font-style="italic">P</tspan><tspan font-size="19" dy="6">n</tspan><tspan dy="-6"> (a.u.)</tspan></text>
<rect x="342.3" y="729.3" width="182.4" height="337.2" fill="#fbf0f6"/>
<rect x="1063.5" y="729.3" width="183.4" height="337.4" fill="#eef5fc"/>
<path d="M152.3,729.0 H160.3 V879.1 H152.3" fill="none" stroke="#000" stroke-width="1.8"/>
<line x1="152.3" y1="729.0" x2="160.3" y2="729.0" stroke="#000" stroke-width="1.9"/>
<text x="145.3" y="740.5" font-size="31" text-anchor="end">6</text>
<line x1="152.3" y1="766.5" x2="160.3" y2="766.5" stroke="#000" stroke-width="1.9"/>
<text x="145.3" y="778.0" font-size="31" text-anchor="end">4</text>
<line x1="152.3" y1="804.1" x2="160.3" y2="804.1" stroke="#000" stroke-width="1.9"/>
<text x="145.3" y="815.6" font-size="31" text-anchor="end">2</text>
<line x1="152.3" y1="841.6" x2="160.3" y2="841.6" stroke="#000" stroke-width="1.9"/>
<text x="145.3" y="853.1" font-size="31" text-anchor="end">0</text>
<line x1="152.3" y1="879.1" x2="160.3" y2="879.1" stroke="#000" stroke-width="1.9"/>
<text x="145.3" y="890.6" font-size="31" text-anchor="end">−2</text>
<path d="M152.3,917.2 H160.3 V1067.6 H152.3" fill="none" stroke="#000" stroke-width="1.8"/>
<line x1="152.3" y1="917.2" x2="160.3" y2="917.2" stroke="#000" stroke-width="1.9"/>
<text x="145.3" y="928.7" font-size="31" text-anchor="end">6</text>
<line x1="152.3" y1="954.8" x2="160.3" y2="954.8" stroke="#000" stroke-width="1.9"/>
<text x="145.3" y="966.3" font-size="31" text-anchor="end">4</text>
<line x1="152.3" y1="992.4" x2="160.3" y2="992.4" stroke="#000" stroke-width="1.9"/>
<text x="145.3" y="1003.9" font-size="31" text-anchor="end">2</text>
<line x1="152.3" y1="1030.0" x2="160.3" y2="1030.0" stroke="#000" stroke-width="1.9"/>
<text x="145.3" y="1041.5" font-size="31" text-anchor="end">0</text>
<line x1="152.3" y1="1067.6" x2="160.3" y2="1067.6" stroke="#000" stroke-width="1.9"/>
<text x="145.3" y="1079.1" font-size="31" text-anchor="end">−2</text>
<path d="M872.3,729.0 H880.3 V879.1 H872.3" fill="none" stroke="#000" stroke-width="1.8"/>
<line x1="872.3" y1="729.0" x2="880.3" y2="729.0" stroke="#000" stroke-width="1.9"/>
<text x="865.3" y="740.5" font-size="31" text-anchor="end">6</text>
<line x1="872.3" y1="766.5" x2="880.3" y2="766.5" stroke="#000" stroke-width="1.9"/>
<text x="865.3" y="778.0" font-size="31" text-anchor="end">4</text>
<line x1="872.3" y1="804.1" x2="880.3" y2="804.1" stroke="#000" stroke-width="1.9"/>
<text x="865.3" y="815.6" font-size="31" text-anchor="end">2</text>
<line x1="872.3" y1="841.6" x2="880.3" y2="841.6" stroke="#000" stroke-width="1.9"/>
<text x="865.3" y="853.1" font-size="31" text-anchor="end">0</text>
<line x1="872.3" y1="879.1" x2="880.3" y2="879.1" stroke="#000" stroke-width="1.9"/>
<text x="865.3" y="890.6" font-size="31" text-anchor="end">−2</text>
<path d="M872.3,917.2 H880.3 V1067.6 H872.3" fill="none" stroke="#000" stroke-width="1.8"/>
<line x1="872.3" y1="917.2" x2="880.3" y2="917.2" stroke="#000" stroke-width="1.9"/>
<text x="865.3" y="928.7" font-size="31" text-anchor="end">6</text>
<line x1="872.3" y1="954.8" x2="880.3" y2="954.8" stroke="#000" stroke-width="1.9"/>
<text x="865.3" y="966.3" font-size="31" text-anchor="end">4</text>
<line x1="872.3" y1="992.4" x2="880.3" y2="992.4" stroke="#000" stroke-width="1.9"/>
<text x="865.3" y="1003.9" font-size="31" text-anchor="end">2</text>
<line x1="872.3" y1="1030.0" x2="880.3" y2="1030.0" stroke="#000" stroke-width="1.9"/>
<text x="865.3" y="1041.5" font-size="31" text-anchor="end">0</text>
<line x1="872.3" y1="1067.6" x2="880.3" y2="1067.6" stroke="#000" stroke-width="1.9"/>
<text x="865.3" y="1079.1" font-size="31" text-anchor="end">−2</text>
<path d="M160.5,829.0 L162.0,827.8 L163.5,827.2 L165.0,827.7 L166.5,828.0 L168.0,828.4 L169.5,827.8 L171.0,827.7 L172.5,828.3 L174.0,828.6 L175.5,828.7 L177.0,827.8 L178.5,827.8 L180.0,829.6 L181.5,830.1 L183.0,830.1 L184.5,829.7 L186.0,829.5 L187.5,830.1 L189.0,830.7 L190.5,831.4 L192.0,831.2 L193.5,831.1 L195.0,831.4 L196.5,831.2 L198.0,830.7 L199.5,832.2 L201.0,833.2 L202.5,833.2 L204.0,833.4 L205.5,833.8 L207.0,833.0 L208.5,833.1 L210.0,835.3 L211.5,835.5 L213.0,834.8 L214.5,834.7 L216.0,835.2 L217.5,836.8 L219.0,836.7 L220.5,835.7 L222.0,835.1 L223.5,834.9 L225.0,835.8 L226.5,835.4 L228.0,834.5 L229.5,836.7 L231.0,838.0 L232.5,837.3 L234.0,837.1 L235.5,837.1 L237.0,838.4 L238.5,838.8 L240.0,837.4 L241.5,837.9 L243.0,839.5 L244.5,838.1 L246.0,837.5 L247.5,838.0 L249.0,837.8 L250.5,837.1 L252.0,838.4 L253.5,839.2 L255.0,839.1 L256.5,838.0 L258.0,836.5 L259.5,836.9 L261.0,836.8 L262.5,835.9 L264.0,835.7 L265.5,835.9 L267.0,834.8 L268.5,833.8 L270.0,832.9 L271.5,832.3 L273.0,832.0 L274.5,833.0 L276.0,833.9 L277.5,834.8 L279.0,834.0 L280.5,832.5 L282.0,831.8 L283.5,831.6 L285.0,832.8 L286.5,832.3 L288.0,831.0 L289.5,830.8 L291.0,830.7 L292.5,830.7 L294.0,830.5 L295.5,830.2 L297.0,830.0 L298.5,829.6 L300.0,828.9 L301.5,829.4 L303.0,830.5 L304.5,830.0 L306.0,830.0 L307.5,830.7 L309.0,830.2 L310.5,829.2 L312.0,828.2 L313.5,827.9 L315.0,828.9 L316.5,829.9 L318.0,830.9 L319.5,829.6 L321.0,828.6 L322.5,828.2 L324.0,827.9 L325.5,827.6 L327.0,827.6 L328.5,827.8 L330.0,828.1 L331.5,827.9 L333.0,827.3 L334.5,828.8 L336.0,829.4 L337.5,828.3 L339.0,828.0 L340.5,828.2 L342.0,829.0 L343.5,826.7 L345.0,816.7 L346.5,805.9 L348.0,794.8 L349.5,787.3 L351.0,781.1 L352.5,774.9 L354.0,768.2 L355.5,761.2 L357.0,753.9 L358.5,757.5 L360.0,762.7 L361.5,767.0 L363.0,770.9 L364.5,774.4 L366.0,777.6 L367.5,780.8 L369.0,785.3 L370.5,790.1 L372.0,794.3 L373.5,798.7 L375.0,803.3 L376.5,807.0 L378.0,809.7 L379.5,811.7 L381.0,813.4 L382.5,814.7 L384.0,815.2 L385.5,815.5 L387.0,815.9 L388.5,816.2 L390.0,816.1 L391.5,816.3 L393.0,816.6 L394.5,816.6 L396.0,816.9 L397.5,817.6 L399.0,819.0 L400.5,820.7 L402.0,820.0 L403.5,819.2 L405.0,818.5 L406.5,818.2 L408.0,818.1 L409.5,817.9 L411.0,818.0 L412.5,818.7 L414.0,819.0 L415.5,819.0 L417.0,817.9 L418.5,817.5 L420.0,818.7 L421.5,818.7 L423.0,818.0 L424.5,819.2 L426.0,819.8 L427.5,819.0 L429.0,819.4 L430.5,820.3 L432.0,819.0 L433.5,818.2 L435.0,818.3 L436.5,818.5 L438.0,818.9 L439.5,819.4 L441.0,819.6 L442.5,819.3 L444.0,818.4 L445.5,817.4 L447.0,818.2 L448.5,818.8 L450.0,818.7 L451.5,818.4 L453.0,818.2 L454.5,818.0 L456.0,818.4 L457.5,819.9 L459.0,819.5 L460.5,818.2 L462.0,817.9 L463.5,818.1 L465.0,818.9 L466.5,819.0 L468.0,818.7 L469.5,818.6 L471.0,818.7 L472.5,819.2 L474.0,819.3 L475.5,819.1 L477.0,819.0 L478.5,819.1 L480.0,819.4 L481.5,819.3 L483.0,818.9 L484.5,818.3 L486.0,818.0 L487.5,818.2 L489.0,818.2 L490.5,818.1 L492.0,818.5 L493.5,818.6 L495.0,817.8 L496.5,817.2 L498.0,816.8 L499.5,817.9 L501.0,818.4 L502.5,817.5 L504.0,817.0 L505.5,816.6 L507.0,818.0 L508.5,818.8 L510.0,818.1 L511.5,818.4 L513.0,819.1 L514.5,818.5 L516.0,818.0 L517.5,817.6 L519.0,817.4 L520.5,817.4 L522.0,817.8 L523.5,818.1 L525.0,818.6 L526.5,818.9 L528.0,819.0 L529.5,819.8 L531.0,820.2 L532.5,819.9 L534.0,820.7 L535.5,822.1 L537.0,821.5 L538.5,821.5 L540.0,822.9 L541.5,824.1 L543.0,825.1 L544.5,825.8 L546.0,826.5 L547.5,827.3 L549.0,826.6 L550.5,825.0 L552.0,826.7 L553.5,828.1 L555.0,828.7 L556.5,829.0 L558.0,829.2 L559.5,828.4 L561.0,828.2 L562.5,829.4 L564.0,830.6 L565.5,831.8 L567.0,830.1 L568.5,829.5 L570.0,831.0 L571.5,832.0 L573.0,832.7 L574.5,831.9 L576.0,831.8 L577.5,832.9 L579.0,832.8 L580.5,832.1 L582.0,832.3 L583.5,832.4 L585.0,832.3 L586.5,832.6 L588.0,833.2 L589.5,832.9 L591.0,833.0 L592.5,833.5 L594.0,832.9 L595.5,831.7 L597.0,832.1 L598.5,832.6 L600.0,833.2 L601.5,833.2 L603.0,832.9 L604.5,831.7 L606.0,831.3 L607.5,832.4 L609.0,832.3 L610.5,831.5 L612.0,832.0 L613.5,832.2 L615.0,832.1 L616.5,832.4 L618.0,832.9 L619.5,831.8 L621.0,830.0 L622.5,827.9 L624.0,826.7 L625.5,826.0 L627.0,826.3 L628.5,826.0 L630.0,824.4 L631.5,824.3 L633.0,826.1 L634.5,826.5 L636.0,826.8 L637.5,827.1 L639.0,828.5 L640.5,830.2 L642.0,829.2 L643.5,828.4 L645.0,827.8 L646.5,829.4 L648.0,832.0 L649.5,829.8 L651.0,828.9 L652.5,830.6 L654.0,831.4 L655.5,831.8 L657.0,831.5 L658.5,830.9 L660.0,830.0 L661.5,830.9 L663.0,832.7 L664.5,831.3 L666.0,830.4 L667.5,830.6 L669.0,831.1 L670.5,831.8 L672.0,832.6 L673.5,833.0 L675.0,832.8 L676.5,833.0 L678.0,833.4 L679.5,832.8 L681.0,832.4 L682.5,832.7 L684.0,832.5 L685.5,832.0 L687.0,832.6 L688.5,833.1 L690.0,833.4 L691.5,833.0 L693.0,832.2 L694.5,832.5 L696.0,832.3 L697.5,831.4 L699.0,831.0 L700.5,830.7 L702.0,830.8 L703.5,830.8 L705.0,830.4 L706.5,830.4 L708.0,830.7 L709.5,830.3 L711.0,830.5 L712.5,831.6 L714.0,831.2 L715.5,830.1 L717.0,830.2 L718.5,830.2 L720.0,829.8 L721.5,830.2 L723.0,830.9 L724.5,831.4 L726.0,831.5 L727.5,830.7 L729.0,830.8 L730.5,831.3 L732.0,831.9 L733.5,832.2 L735.0,831.8 L736.5,831.5 L738.0,831.4 L739.5,832.4 L741.0,832.9 L742.5,832.5 L744.0,832.6 L745.5,832.8 L747.0,833.4 L748.5,833.8 L750.0,833.9 L751.5,833.4 L753.0,832.6 L754.5,832.6 L756.0,832.8 L757.5,833.4 L759.0,833.0 L760.5,832.2 L762.0,830.7 L763.5,830.1 L765.0,831.5 L766.5,831.2 L768.0,829.9 L769.5,829.8 L770.7,829.6 L770.7,858.0 L769.5,858.2 L768.0,858.7 L766.5,858.4 L765.0,858.2 L763.5,858.3 L762.0,858.2 L760.5,857.9 L759.0,857.9 L757.5,857.9 L756.0,858.0 L754.5,858.6 L753.0,859.5 L751.5,858.8 L750.0,858.5 L748.5,859.2 L747.0,859.5 L745.5,859.6 L744.0,858.3 L742.5,857.8 L741.0,858.6 L739.5,858.3 L738.0,857.3 L736.5,858.7 L735.0,859.6 L733.5,859.4 L732.0,858.5 L730.5,857.3 L729.0,858.1 L727.5,858.5 L726.0,858.0 L724.5,858.2 L723.0,858.6 L721.5,858.9 L720.0,858.9 L718.5,858.4 L717.0,858.4 L715.5,858.6 L714.0,858.0 L712.5,857.9 L711.0,858.4 L709.5,859.0 L708.0,859.6 L706.5,859.4 L705.0,858.9 L703.5,858.0 L702.0,857.5 L700.5,857.3 L699.0,858.0 L697.5,858.5 L696.0,858.8 L694.5,859.0 L693.0,859.2 L691.5,858.9 L690.0,858.2 L688.5,856.7 L687.0,858.2 L685.5,861.1 L684.0,860.4 L682.5,859.7 L681.0,858.9 L679.5,858.7 L678.0,858.7 L676.5,859.1 L675.0,859.2 L673.5,858.7 L672.0,858.8 L670.5,859.0 L669.0,857.8 L667.5,857.7 L666.0,860.1 L664.5,860.7 L663.0,860.3 L661.5,860.6 L660.0,860.5 L658.5,859.9 L657.0,860.1 L655.5,860.7 L654.0,859.9 L652.5,860.0 L651.0,861.8 L649.5,861.8 L648.0,861.0 L646.5,860.3 L645.0,859.8 L643.5,859.8 L642.0,860.1 L640.5,860.5 L639.0,860.5 L637.5,860.6 L636.0,860.7 L634.5,860.2 L633.0,859.4 L631.5,860.2 L630.0,860.7 L628.5,860.7 L627.0,860.5 L625.5,860.1 L624.0,860.7 L622.5,860.8 L621.0,859.8 L619.5,859.6 L618.0,859.8 L616.5,859.6 L615.0,859.7 L613.5,860.1 L612.0,859.6 L610.5,858.7 L609.0,859.3 L607.5,859.6 L606.0,859.1 L604.5,859.0 L603.0,859.2 L601.5,859.7 L600.0,859.7 L598.5,858.6 L597.0,858.5 L595.5,858.9 L594.0,857.6 L592.5,857.3 L591.0,859.2 L589.5,859.4 L588.0,858.6 L586.5,858.7 L585.0,859.0 L583.5,859.7 L582.0,859.4 L580.5,858.8 L579.0,857.9 L577.5,857.4 L576.0,857.8 L574.5,858.7 L573.0,859.9 L571.5,859.7 L570.0,859.2 L568.5,858.3 L567.0,858.4 L565.5,859.0 L564.0,858.1 L562.5,857.9 L561.0,859.0 L559.5,858.2 L558.0,856.3 L556.5,857.3 L555.0,858.0 L553.5,858.1 L552.0,857.4 L550.5,856.2 L549.0,857.4 L547.5,858.1 L546.0,857.4 L544.5,857.6 L543.0,858.2 L541.5,858.4 L540.0,858.2 L538.5,857.5 L537.0,857.0 L535.5,856.6 L534.0,857.0 L532.5,856.8 L531.0,855.1 L529.5,855.0 L528.0,855.7 L526.5,855.2 L525.0,855.2 L523.5,856.1 L522.0,856.1 L520.5,855.7 L519.0,855.5 L517.5,855.4 L516.0,855.6 L514.5,855.4 L513.0,855.0 L511.5,855.0 L510.0,854.7 L508.5,853.8 L507.0,852.8 L505.5,851.8 L504.0,853.0 L502.5,853.9 L501.0,854.2 L499.5,854.4 L498.0,854.4 L496.5,855.0 L495.0,855.2 L493.5,854.9 L492.0,854.5 L490.5,854.1 L489.0,854.8 L487.5,854.6 L486.0,853.0 L484.5,852.5 L483.0,852.6 L481.5,853.2 L480.0,854.0 L478.5,855.0 L477.0,854.6 L475.5,853.6 L474.0,852.5 L472.5,852.1 L471.0,853.4 L469.5,852.6 L468.0,850.9 L466.5,851.8 L465.0,852.6 L463.5,853.2 L462.0,853.2 L460.5,852.8 L459.0,852.2 L457.5,851.8 L456.0,851.9 L454.5,852.2 L453.0,852.6 L451.5,852.1 L450.0,852.1 L448.5,852.9 L447.0,853.0 L445.5,852.7 L444.0,851.8 L442.5,851.2 L441.0,851.5 L439.5,851.7 L438.0,851.8 L436.5,850.3 L435.0,849.7 L433.5,851.1 L432.0,851.4 L430.5,851.3 L429.0,849.9 L427.5,849.3 L426.0,850.5 L424.5,851.7 L423.0,853.0 L421.5,853.3 L420.0,852.8 L418.5,850.7 L417.0,850.9 L415.5,852.3 L414.0,851.7 L412.5,851.2 L411.0,850.9 L409.5,850.4 L408.0,849.7 L406.5,849.3 L405.0,849.1 L403.5,849.4 L402.0,849.1 L400.5,848.4 L399.0,848.3 L397.5,848.7 L396.0,850.1 L394.5,849.6 L393.0,848.1 L391.5,847.8 L390.0,847.3 L388.5,846.1 L387.0,846.3 L385.5,846.6 L384.0,844.8 L382.5,843.7 L381.0,844.0 L379.5,842.9 L378.0,841.2 L376.5,840.8 L375.0,840.5 L373.5,840.3 L372.0,838.6 L370.5,835.9 L369.0,833.6 L367.5,831.4 L366.0,829.6 L364.5,827.7 L363.0,825.6 L361.5,821.5 L360.0,818.4 L358.5,820.2 L357.0,824.3 L355.5,828.3 L354.0,830.9 L352.5,834.6 L351.0,841.4 L349.5,848.5 L348.0,853.9 L346.5,855.9 L345.0,857.9 L343.5,859.5 L342.0,860.8 L340.5,860.6 L339.0,860.8 L337.5,861.6 L336.0,863.8 L334.5,863.1 L333.0,861.1 L331.5,861.1 L330.0,861.3 L328.5,862.1 L327.0,862.8 L325.5,863.5 L324.0,862.0 L322.5,861.2 L321.0,861.6 L319.5,861.5 L318.0,861.0 L316.5,861.3 L315.0,862.0 L313.5,863.6 L312.0,863.6 L310.5,862.7 L309.0,862.7 L307.5,863.0 L306.0,863.6 L304.5,863.6 L303.0,863.3 L301.5,862.2 L300.0,861.8 L298.5,862.6 L297.0,863.2 L295.5,863.5 L294.0,863.0 L292.5,863.1 L291.0,864.5 L289.5,864.3 L288.0,863.4 L286.5,864.5 L285.0,865.1 L283.5,864.7 L282.0,864.0 L280.5,863.1 L279.0,862.8 L277.5,863.1 L276.0,864.5 L274.5,864.4 L273.0,863.7 L271.5,864.0 L270.0,864.4 L268.5,864.6 L267.0,863.9 L265.5,862.6 L264.0,862.7 L262.5,863.2 L261.0,864.1 L259.5,864.2 L258.0,863.9 L256.5,864.4 L255.0,864.5 L253.5,863.9 L252.0,863.0 L250.5,862.1 L249.0,861.9 L247.5,862.0 L246.0,862.9 L244.5,863.8 L243.0,864.7 L241.5,862.7 L240.0,861.8 L238.5,862.9 L237.0,863.2 L235.5,863.1 L234.0,864.0 L232.5,864.5 L231.0,864.3 L229.5,863.7 L228.0,862.8 L226.5,863.5 L225.0,864.2 L223.5,864.7 L222.0,864.3 L220.5,863.4 L219.0,863.8 L217.5,863.8 L216.0,863.1 L214.5,863.2 L213.0,863.7 L211.5,863.2 L210.0,862.9 L208.5,863.2 L207.0,864.1 L205.5,865.2 L204.0,864.8 L202.5,864.2 L201.0,863.2 L199.5,864.0 L198.0,865.8 L196.5,866.3 L195.0,866.6 L193.5,866.5 L192.0,866.4 L190.5,866.2 L189.0,865.9 L187.5,865.9 L186.0,866.4 L184.5,867.4 L183.0,868.4 L181.5,868.0 L180.0,867.8 L178.5,868.2 L177.0,868.1 L175.5,867.9 L174.0,868.0 L172.5,868.1 L171.0,868.2 L169.5,867.9 L168.0,867.3 L166.5,868.2 L165.0,868.7 L163.5,868.6 L162.0,869.3 L160.5,870.6 Z" fill="#f0f0f0"/>
<path d="M160.5,1005.0 L162.0,1004.3 L163.5,1003.7 L165.0,1003.3 L166.5,1004.2 L168.0,1005.7 L169.5,1006.1 L171.0,1006.2 L172.5,1006.2 L174.0,1006.4 L175.5,1006.5 L177.0,1008.3 L178.5,1010.0 L180.0,1011.6 L181.5,1011.4 L183.0,1009.6 L184.5,1011.2 L186.0,1012.2 L187.5,1011.9 L189.0,1011.7 L190.5,1011.6 L192.0,1012.6 L193.5,1012.9 L195.0,1012.1 L196.5,1012.5 L198.0,1013.7 L199.5,1014.5 L201.0,1014.9 L202.5,1014.4 L204.0,1013.9 L205.5,1013.5 L207.0,1013.1 L208.5,1013.0 L210.0,1013.5 L211.5,1013.5 L213.0,1013.2 L214.5,1015.4 L216.0,1016.6 L217.5,1015.6 L219.0,1015.0 L220.5,1014.7 L222.0,1014.6 L223.5,1014.7 L225.0,1015.0 L226.5,1015.4 L228.0,1016.0 L229.5,1015.5 L231.0,1015.9 L232.5,1017.8 L234.0,1017.5 L235.5,1016.2 L237.0,1016.3 L238.5,1016.6 L240.0,1017.4 L241.5,1018.2 L243.0,1019.0 L244.5,1019.1 L246.0,1018.8 L247.5,1017.8 L249.0,1017.9 L250.5,1018.5 L252.0,1018.6 L253.5,1018.9 L255.0,1019.3 L256.5,1019.4 L258.0,1019.5 L259.5,1018.9 L261.0,1018.6 L262.5,1018.6 L264.0,1019.3 L265.5,1020.3 L267.0,1019.7 L268.5,1019.8 L270.0,1021.5 L271.5,1021.7 L273.0,1021.1 L274.5,1020.6 L276.0,1020.1 L277.5,1020.0 L279.0,1019.5 L280.5,1018.9 L282.0,1018.6 L283.5,1018.4 L285.0,1018.6 L286.5,1017.3 L288.0,1015.4 L289.5,1015.1 L291.0,1015.6 L292.5,1017.1 L294.0,1017.5 L295.5,1017.4 L297.0,1017.8 L298.5,1018.2 L300.0,1018.5 L301.5,1018.5 L303.0,1018.3 L304.5,1019.1 L306.0,1019.3 L307.5,1018.5 L309.0,1018.7 L310.5,1019.5 L312.0,1019.2 L313.5,1018.9 L315.0,1018.9 L316.5,1019.7 L318.0,1020.9 L319.5,1021.0 L321.0,1020.6 L322.5,1019.3 L324.0,1019.2 L325.5,1019.9 L327.0,1020.8 L328.5,1021.7 L330.0,1022.3 L331.5,1020.7 L333.0,1018.5 L334.5,1017.7 L336.0,1016.6 L337.5,1014.7 L339.0,1014.9 L340.5,1016.2 L342.0,1013.9 L343.5,1012.0 L345.0,1000.2 L346.5,987.3 L348.0,974.3 L349.5,961.9 L351.0,950.2 L352.5,938.3 L354.0,926.2 L355.5,929.3 L357.0,937.5 L358.5,945.4 L360.0,952.6 L361.5,960.5 L363.0,968.6 L364.5,971.6 L366.0,975.1 L367.5,979.4 L369.0,984.2 L370.5,987.5 L372.0,987.0 L373.5,986.2 L375.0,984.7 L376.5,986.5 L378.0,988.4 L379.5,991.2 L381.0,993.8 L382.5,996.0 L384.0,999.2 L385.5,1003.1 L387.0,1004.9 L388.5,1007.0 L390.0,1009.6 L391.5,1011.6 L393.0,1011.5 L394.5,1011.5 L396.0,1012.0 L397.5,1013.5 L399.0,1014.5 L400.5,1015.3 L402.0,1015.1 L403.5,1015.0 L405.0,1015.2 L406.5,1016.0 L408.0,1016.7 L409.5,1015.6 L411.0,1015.1 L412.5,1015.6 L414.0,1015.0 L415.5,1014.0 L417.0,1013.6 L418.5,1013.6 L420.0,1014.4 L421.5,1014.4 L423.0,1014.1 L424.5,1014.8 L426.0,1014.9 L427.5,1013.4 L429.0,1012.9 L430.5,1012.9 L432.0,1012.2 L433.5,1011.5 L435.0,1011.0 L436.5,1010.8 L438.0,1010.8 L439.5,1012.1 L441.0,1012.6 L442.5,1011.6 L444.0,1012.1 L445.5,1013.4 L447.0,1013.6 L448.5,1013.3 L450.0,1012.2 L451.5,1012.6 L453.0,1013.8 L454.5,1012.9 L456.0,1012.5 L457.5,1013.0 L459.0,1012.7 L460.5,1011.9 L462.0,1012.6 L463.5,1012.7 L465.0,1011.5 L466.5,1011.8 L468.0,1012.7 L469.5,1012.1 L471.0,1011.7 L472.5,1011.9 L474.0,1012.4 L475.5,1013.1 L477.0,1013.1 L478.5,1013.1 L480.0,1013.2 L481.5,1013.7 L483.0,1014.4 L484.5,1014.6 L486.0,1014.5 L487.5,1013.4 L489.0,1013.9 L490.5,1015.3 L492.0,1015.6 L493.5,1015.6 L495.0,1015.0 L496.5,1015.4 L498.0,1016.3 L499.5,1015.5 L501.0,1015.6 L502.5,1017.5 L504.0,1017.6 L505.5,1016.8 L507.0,1017.1 L508.5,1017.7 L510.0,1018.7 L511.5,1018.6 L513.0,1018.0 L514.5,1018.7 L516.0,1018.8 L517.5,1017.5 L519.0,1017.1 L520.5,1017.1 L522.0,1016.4 L523.5,1016.0 L525.0,1016.4 L526.5,1016.9 L528.0,1017.3 L529.5,1016.6 L531.0,1016.1 L532.5,1016.3 L534.0,1015.9 L535.5,1015.1 L537.0,1015.5 L538.5,1015.9 L540.0,1016.4 L541.5,1017.2 L543.0,1018.1 L544.5,1018.3 L546.0,1018.4 L547.5,1018.5 L549.0,1018.9 L550.5,1019.6 L552.0,1019.4 L553.5,1019.4 L555.0,1019.8 L556.5,1020.6 L558.0,1021.7 L559.5,1020.8 L561.0,1020.5 L562.5,1021.3 L564.0,1022.3 L565.5,1023.4 L567.0,1022.8 L568.5,1022.6 L570.0,1023.3 L571.5,1023.1 L573.0,1022.6 L574.5,1024.5 L576.0,1024.9 L577.5,1022.7 L579.0,1022.6 L580.5,1023.5 L582.0,1023.9 L583.5,1024.7 L585.0,1026.4 L586.5,1026.3 L588.0,1025.5 L589.5,1025.0 L591.0,1024.4 L592.5,1023.7 L594.0,1024.0 L595.5,1024.9 L597.0,1024.6 L598.5,1024.3 L600.0,1023.7 L601.5,1023.1 L603.0,1022.5 L604.5,1022.6 L606.0,1022.9 L607.5,1023.6 L609.0,1023.8 L610.5,1023.7 L612.0,1023.5 L613.5,1023.2 L615.0,1023.0 L616.5,1022.2 L618.0,1021.1 L619.5,1022.0 L621.0,1022.4 L622.5,1021.7 L624.0,1018.3 L625.5,1015.4 L627.0,1012.1 L628.5,1008.5 L630.0,1004.2 L631.5,1000.3 L633.0,1000.1 L634.5,1003.2 L636.0,1005.7 L637.5,1007.1 L639.0,1008.5 L640.5,1009.2 L642.0,1008.4 L643.5,1008.7 L645.0,1011.1 L646.5,1012.6 L648.0,1013.7 L649.5,1014.6 L651.0,1015.1 L652.5,1014.7 L654.0,1014.8 L655.5,1014.5 L657.0,1014.4 L658.5,1014.5 L660.0,1015.0 L661.5,1014.2 L663.0,1012.7 L664.5,1013.1 L666.0,1013.0 L667.5,1012.3 L669.0,1012.3 L670.5,1012.8 L672.0,1011.4 L673.5,1010.8 L675.0,1011.7 L676.5,1011.5 L678.0,1010.7 L679.5,1011.8 L681.0,1012.9 L682.5,1014.2 L684.0,1015.5 L685.5,1016.8 L687.0,1016.0 L688.5,1016.1 L690.0,1017.3 L691.5,1017.2 L693.0,1016.5 L694.5,1015.5 L696.0,1015.0 L697.5,1015.6 L699.0,1015.0 L700.5,1013.8 L702.0,1014.1 L703.5,1013.7 L705.0,1012.1 L706.5,1011.6 L708.0,1011.8 L709.5,1013.4 L711.0,1014.7 L712.5,1015.6 L714.0,1015.6 L715.5,1015.0 L717.0,1015.5 L718.5,1015.7 L720.0,1015.2 L721.5,1014.9 L723.0,1014.8 L724.5,1015.8 L726.0,1016.9 L727.5,1018.3 L729.0,1017.0 L730.5,1014.1 L732.0,1014.0 L733.5,1013.4 L735.0,1011.7 L736.5,1011.3 L738.0,1011.7 L739.5,1012.6 L741.0,1013.8 L742.5,1013.8 L744.0,1015.1 L745.5,1016.9 L747.0,1016.5 L748.5,1015.6 L750.0,1013.3 L751.5,1011.2 L753.0,1009.1 L754.5,1007.7 L756.0,1006.4 L757.5,1007.6 L759.0,1010.2 L760.5,1013.5 L762.0,1014.3 L763.5,1015.7 L765.0,1017.8 L766.5,1017.2 L768.0,1016.2 L769.5,1014.4 L770.7,1013.2 L770.7,1040.4 L769.5,1040.5 L768.0,1040.7 L766.5,1041.5 L765.0,1042.0 L763.5,1042.2 L762.0,1042.3 L760.5,1042.3 L759.0,1041.8 L757.5,1041.3 L756.0,1040.8 L754.5,1041.2 L753.0,1042.0 L751.5,1042.1 L750.0,1041.9 L748.5,1041.0 L747.0,1041.3 L745.5,1042.1 L744.0,1041.7 L742.5,1041.6 L741.0,1041.9 L739.5,1042.5 L738.0,1043.3 L736.5,1043.3 L735.0,1043.1 L733.5,1042.1 L732.0,1042.6 L730.5,1043.8 L729.0,1043.6 L727.5,1043.7 L726.0,1044.4 L724.5,1044.7 L723.0,1044.8 L721.5,1044.7 L720.0,1044.6 L718.5,1044.5 L717.0,1044.6 L715.5,1044.8 L714.0,1044.2 L712.5,1044.2 L711.0,1045.1 L709.5,1045.4 L708.0,1045.5 L706.5,1046.1 L705.0,1046.2 L703.5,1045.2 L702.0,1045.2 L700.5,1045.7 L699.0,1046.4 L697.5,1046.7 L696.0,1045.9 L694.5,1045.7 L693.0,1046.0 L691.5,1047.5 L690.0,1048.3 L688.5,1047.3 L687.0,1046.4 L685.5,1045.7 L684.0,1046.8 L682.5,1047.7 L681.0,1048.3 L679.5,1048.7 L678.0,1049.0 L676.5,1049.4 L675.0,1048.0 L673.5,1046.0 L672.0,1043.9 L670.5,1042.7 L669.0,1042.9 L667.5,1043.2 L666.0,1043.6 L664.5,1043.4 L663.0,1042.9 L661.5,1042.8 L660.0,1042.8 L658.5,1042.8 L657.0,1043.0 L655.5,1043.3 L654.0,1044.7 L652.5,1045.9 L651.0,1046.5 L649.5,1046.0 L648.0,1044.7 L646.5,1045.4 L645.0,1045.9 L643.5,1046.4 L642.0,1046.7 L640.5,1047.0 L639.0,1047.2 L637.5,1047.5 L636.0,1047.9 L634.5,1048.1 L633.0,1048.1 L631.5,1047.8 L630.0,1047.7 L628.5,1048.1 L627.0,1048.4 L625.5,1048.5 L624.0,1048.7 L622.5,1049.1 L621.0,1050.0 L619.5,1050.5 L618.0,1050.7 L616.5,1050.0 L615.0,1049.3 L613.5,1048.6 L612.0,1048.5 L610.5,1048.6 L609.0,1048.2 L607.5,1047.7 L606.0,1047.1 L604.5,1047.3 L603.0,1047.9 L601.5,1047.6 L600.0,1047.7 L598.5,1048.3 L597.0,1048.0 L595.5,1047.4 L594.0,1048.0 L592.5,1048.5 L591.0,1048.7 L589.5,1048.2 L588.0,1047.4 L586.5,1046.2 L585.0,1045.7 L583.5,1046.3 L582.0,1046.8 L580.5,1047.2 L579.0,1047.3 L577.5,1047.3 L576.0,1047.2 L574.5,1046.7 L573.0,1046.1 L571.5,1045.7 L570.0,1045.4 L568.5,1045.4 L567.0,1045.4 L565.5,1045.6 L564.0,1047.4 L562.5,1047.9 L561.0,1045.6 L559.5,1045.0 L558.0,1045.1 L556.5,1046.6 L555.0,1047.2 L553.5,1046.2 L552.0,1046.0 L550.5,1046.3 L549.0,1046.8 L547.5,1046.9 L546.0,1046.1 L544.5,1045.9 L543.0,1046.0 L541.5,1046.2 L540.0,1046.6 L538.5,1047.1 L537.0,1046.5 L535.5,1045.2 L534.0,1045.8 L532.5,1046.2 L531.0,1045.9 L529.5,1047.0 L528.0,1048.7 L526.5,1048.3 L525.0,1047.9 L523.5,1047.7 L522.0,1047.7 L520.5,1047.8 L519.0,1048.3 L517.5,1048.3 L516.0,1047.2 L514.5,1046.8 L513.0,1046.7 L511.5,1047.5 L510.0,1048.2 L508.5,1048.8 L507.0,1048.3 L505.5,1047.2 L504.0,1047.4 L502.5,1047.4 L501.0,1047.1 L499.5,1047.1 L498.0,1047.4 L496.5,1047.3 L495.0,1047.3 L493.5,1047.4 L492.0,1047.7 L490.5,1048.1 L489.0,1048.5 L487.5,1048.3 L486.0,1046.7 L484.5,1046.6 L483.0,1047.2 L481.5,1047.0 L480.0,1047.5 L478.5,1049.0 L477.0,1049.2 L475.5,1048.7 L474.0,1048.9 L472.5,1048.9 L471.0,1048.4 L469.5,1048.7 L468.0,1049.4 L466.5,1050.3 L465.0,1050.6 L463.5,1049.9 L462.0,1049.3 L460.5,1048.7 L459.0,1049.0 L457.5,1048.8 L456.0,1047.5 L454.5,1047.8 L453.0,1048.9 L451.5,1049.3 L450.0,1049.3 L448.5,1048.8 L447.0,1049.4 L445.5,1050.6 L444.0,1049.9 L442.5,1049.3 L441.0,1048.8 L439.5,1049.7 L438.0,1051.2 L436.5,1050.4 L435.0,1049.2 L433.5,1047.5 L432.0,1048.2 L430.5,1050.2 L429.0,1049.7 L427.5,1049.0 L426.0,1047.9 L424.5,1047.0 L423.0,1046.3 L421.5,1046.9 L420.0,1047.0 L418.5,1046.1 L417.0,1046.0 L415.5,1046.4 L414.0,1046.8 L412.5,1046.7 L411.0,1045.5 L409.5,1044.5 L408.0,1043.6 L406.5,1044.6 L405.0,1044.9 L403.5,1044.0 L402.0,1043.3 L400.5,1043.0 L399.0,1043.5 L397.5,1043.9 L396.0,1044.3 L394.5,1044.5 L393.0,1044.7 L391.5,1044.4 L390.0,1044.1 L388.5,1043.9 L387.0,1044.1 L385.5,1044.6 L384.0,1045.4 L382.5,1046.1 L381.0,1046.8 L379.5,1046.7 L378.0,1045.6 L376.5,1044.3 L375.0,1042.7 L373.5,1040.5 L372.0,1040.1 L370.5,1040.6 L369.0,1038.2 L367.5,1036.4 L366.0,1036.0 L364.5,1035.2 L363.0,1034.2 L361.5,1033.8 L360.0,1033.2 L358.5,1032.2 L357.0,1031.2 L355.5,1033.4 L354.0,1036.9 L352.5,1040.9 L351.0,1045.9 L349.5,1050.5 L348.0,1053.1 L346.5,1052.3 L345.0,1051.7 L343.5,1051.5 L342.0,1051.2 L340.5,1050.9 L339.0,1050.8 L337.5,1050.5 L336.0,1049.9 L334.5,1049.2 L333.0,1048.5 L331.5,1048.4 L330.0,1048.3 L328.5,1048.7 L327.0,1049.0 L325.5,1049.3 L324.0,1049.5 L322.5,1049.3 L321.0,1048.3 L319.5,1048.5 L318.0,1049.3 L316.5,1049.7 L315.0,1050.2 L313.5,1050.7 L312.0,1050.4 L310.5,1049.7 L309.0,1050.0 L307.5,1050.4 L306.0,1050.8 L304.5,1050.5 L303.0,1049.9 L301.5,1050.0 L300.0,1050.1 L298.5,1050.1 L297.0,1050.5 L295.5,1050.9 L294.0,1051.4 L292.5,1051.6 L291.0,1051.0 L289.5,1051.0 L288.0,1051.3 L286.5,1050.8 L285.0,1050.4 L283.5,1050.1 L282.0,1050.4 L280.5,1051.1 L279.0,1050.2 L277.5,1049.8 L276.0,1050.4 L274.5,1050.7 L273.0,1050.7 L271.5,1051.6 L270.0,1051.7 L268.5,1050.4 L267.0,1050.3 L265.5,1050.7 L264.0,1051.2 L262.5,1051.3 L261.0,1050.8 L259.5,1050.4 L258.0,1050.1 L256.5,1050.2 L255.0,1050.3 L253.5,1050.6 L252.0,1049.7 L250.5,1048.2 L249.0,1049.0 L247.5,1049.5 L246.0,1049.3 L244.5,1049.1 L243.0,1048.9 L241.5,1049.1 L240.0,1048.9 L238.5,1047.9 L237.0,1047.7 L235.5,1047.8 L234.0,1048.3 L232.5,1048.9 L231.0,1049.9 L229.5,1049.8 L228.0,1049.2 L226.5,1048.2 L225.0,1047.8 L223.5,1048.4 L222.0,1048.6 L220.5,1048.6 L219.0,1048.8 L217.5,1048.6 L216.0,1047.9 L214.5,1048.4 L213.0,1049.7 L211.5,1048.4 L210.0,1047.5 L208.5,1047.5 L207.0,1047.5 L205.5,1047.7 L204.0,1048.7 L202.5,1048.8 L201.0,1047.3 L199.5,1046.7 L198.0,1046.7 L196.5,1047.1 L195.0,1047.5 L193.5,1047.7 L192.0,1048.5 L190.5,1049.7 L189.0,1047.5 L187.5,1046.3 L186.0,1046.8 L184.5,1048.0 L183.0,1049.4 L181.5,1048.4 L180.0,1047.9 L178.5,1047.6 L177.0,1047.1 L175.5,1046.4 L174.0,1047.6 L172.5,1048.8 L171.0,1050.2 L169.5,1049.9 L168.0,1048.7 L166.5,1050.2 L165.0,1051.2 L163.5,1051.5 L162.0,1052.1 L160.5,1052.8 Z" fill="#f0f0f0"/>
<path d="M880.3,826.6 L881.8,827.9 L883.3,828.6 L884.8,828.2 L886.3,828.3 L887.8,828.6 L889.3,828.7 L890.8,828.2 L892.3,826.6 L893.8,826.8 L895.3,828.0 L896.8,828.6 L898.3,829.7 L899.8,831.5 L901.3,832.9 L902.8,834.0 L904.3,833.4 L905.8,833.4 L907.3,834.6 L908.8,835.6 L910.3,835.9 L911.8,835.3 L913.3,834.9 L914.8,834.9 L916.3,834.9 L917.8,834.9 L919.3,835.9 L920.8,836.2 L922.3,835.2 L923.8,835.7 L925.3,836.9 L926.8,836.4 L928.3,836.1 L929.8,836.6 L931.3,837.1 L932.8,837.6 L934.3,836.3 L935.8,835.4 L937.3,835.4 L938.8,835.9 L940.3,836.7 L941.8,835.9 L943.3,835.4 L944.8,835.6 L946.3,836.0 L947.8,836.4 L949.3,836.6 L950.8,836.5 L952.3,835.7 L953.8,835.8 L955.3,836.3 L956.8,836.5 L958.3,836.8 L959.8,836.9 L961.3,835.4 L962.8,833.1 L964.3,834.8 L965.8,835.7 L967.3,835.1 L968.8,834.0 L970.3,832.5 L971.8,831.9 L973.3,831.9 L974.8,832.7 L976.3,832.4 L977.8,831.6 L979.3,831.6 L980.8,831.7 L982.3,831.8 L983.8,831.2 L985.3,830.0 L986.8,829.9 L988.3,829.7 L989.8,829.5 L991.3,829.4 L992.8,830.1 L994.3,831.0 L995.8,831.7 L997.3,832.0 L998.8,831.8 L1000.3,831.4 L1001.8,831.5 L1003.3,832.2 L1004.8,834.1 L1006.3,834.4 L1007.8,833.7 L1009.3,834.0 L1010.8,834.0 L1012.3,833.5 L1013.8,834.3 L1015.3,835.8 L1016.8,835.3 L1018.3,835.1 L1019.8,835.7 L1021.3,835.8 L1022.8,835.0 L1024.3,835.0 L1025.8,835.0 L1027.3,834.9 L1028.8,833.9 L1030.3,832.4 L1031.8,832.3 L1033.3,832.7 L1034.8,833.4 L1036.3,833.4 L1037.8,832.9 L1039.3,833.1 L1040.8,833.5 L1042.3,833.9 L1043.8,834.0 L1045.3,833.9 L1046.8,835.3 L1048.3,836.1 L1049.8,835.3 L1051.3,835.9 L1052.8,837.2 L1054.3,837.6 L1055.8,837.4 L1057.3,836.4 L1058.8,836.7 L1060.3,837.7 L1061.8,837.6 L1063.3,828.5 L1064.8,817.1 L1066.3,806.3 L1067.8,795.8 L1069.3,784.9 L1070.8,777.8 L1072.3,774.4 L1073.8,770.7 L1075.3,766.9 L1076.8,763.7 L1078.3,766.9 L1079.8,771.3 L1081.3,775.8 L1082.8,780.3 L1084.3,787.9 L1085.8,795.0 L1087.3,800.4 L1088.8,807.8 L1090.3,811.5 L1091.8,812.1 L1093.3,813.3 L1094.8,815.8 L1096.3,816.8 L1097.8,817.1 L1099.3,818.3 L1100.8,819.7 L1102.3,821.7 L1103.8,823.8 L1105.3,825.9 L1106.8,826.7 L1108.3,825.7 L1109.8,824.0 L1111.3,824.4 L1112.8,825.9 L1114.3,824.3 L1115.8,823.2 L1117.3,823.2 L1118.8,823.0 L1120.3,822.6 L1121.8,821.9 L1123.3,821.4 L1124.8,821.5 L1126.3,821.4 L1127.8,821.3 L1129.3,821.6 L1130.8,822.4 L1132.3,823.3 L1133.8,823.9 L1135.3,824.3 L1136.8,824.2 L1138.3,824.5 L1139.8,825.9 L1141.3,826.3 L1142.8,826.6 L1144.3,826.2 L1145.8,825.7 L1147.3,824.8 L1148.8,824.4 L1150.3,824.3 L1151.8,824.1 L1153.3,823.9 L1154.8,823.8 L1156.3,823.6 L1157.8,823.4 L1159.3,821.8 L1160.8,820.6 L1162.3,820.2 L1163.8,820.6 L1165.3,821.5 L1166.8,821.7 L1168.3,821.9 L1169.8,821.9 L1171.3,820.5 L1172.8,818.3 L1174.3,819.7 L1175.8,820.0 L1177.3,818.3 L1178.8,819.4 L1180.3,821.9 L1181.8,821.6 L1183.3,821.5 L1184.8,821.6 L1186.3,821.6 L1187.8,821.6 L1189.3,822.6 L1190.8,822.9 L1192.3,822.1 L1193.8,822.1 L1195.3,822.6 L1196.8,822.0 L1198.3,821.4 L1199.8,820.9 L1201.3,820.6 L1202.8,820.3 L1204.3,819.8 L1205.8,819.1 L1207.3,818.0 L1208.8,818.2 L1210.3,818.9 L1211.8,818.6 L1213.3,818.1 L1214.8,817.2 L1216.3,817.1 L1217.8,817.2 L1219.3,817.0 L1220.8,816.3 L1222.3,815.1 L1223.8,815.5 L1225.3,816.6 L1226.8,816.8 L1228.3,817.0 L1229.8,817.1 L1231.3,817.9 L1232.8,819.0 L1234.3,818.7 L1235.8,818.8 L1237.3,819.4 L1238.8,820.2 L1240.3,821.0 L1241.8,821.4 L1243.3,821.7 L1244.8,821.4 L1246.3,821.8 L1247.8,822.7 L1249.3,820.5 L1250.8,818.6 L1252.3,818.0 L1253.8,816.6 L1255.3,814.7 L1256.8,814.7 L1258.3,814.6 L1259.8,814.0 L1261.3,813.1 L1262.8,813.4 L1264.3,812.8 L1265.8,812.8 L1267.3,813.6 L1268.8,814.9 L1270.3,816.4 L1271.8,816.2 L1273.3,816.5 L1274.8,817.7 L1276.3,817.4 L1277.8,816.6 L1279.3,818.4 L1280.8,819.6 L1282.3,819.7 L1283.8,819.7 L1285.3,819.7 L1286.8,819.3 L1288.3,819.2 L1289.8,819.9 L1291.3,820.5 L1292.8,821.0 L1294.3,821.4 L1295.8,821.7 L1297.3,821.8 L1298.8,822.0 L1300.3,822.3 L1301.8,822.9 L1303.3,823.6 L1304.8,824.7 L1306.3,823.9 L1307.8,822.2 L1309.3,822.9 L1310.8,823.4 L1312.3,823.6 L1313.8,824.3 L1315.3,825.1 L1316.8,824.8 L1318.3,825.1 L1319.8,826.6 L1321.3,826.9 L1322.8,826.7 L1324.3,826.6 L1325.8,826.4 L1327.3,826.2 L1328.8,826.6 L1330.3,827.1 L1331.8,827.2 L1333.3,827.3 L1334.8,827.5 L1336.3,827.2 L1337.8,826.3 L1339.3,826.5 L1340.8,826.1 L1342.3,824.2 L1343.8,824.3 L1345.3,825.3 L1346.8,822.2 L1348.3,820.3 L1349.8,821.2 L1351.3,820.9 L1352.8,820.0 L1354.3,821.6 L1355.8,822.3 L1357.3,821.3 L1358.8,822.6 L1360.3,824.9 L1361.8,823.3 L1363.3,823.0 L1364.8,825.6 L1366.3,826.0 L1367.8,825.4 L1369.3,825.6 L1370.8,825.9 L1372.3,826.5 L1373.8,827.6 L1375.3,829.1 L1376.8,828.7 L1378.3,827.9 L1379.8,826.4 L1381.3,827.5 L1382.8,830.0 L1384.3,829.8 L1385.8,829.4 L1387.3,828.7 L1388.8,829.4 L1390.3,831.1 L1391.8,830.1 L1393.3,829.8 L1394.8,830.8 L1396.3,831.3 L1397.8,831.5 L1399.3,831.2 L1400.8,831.3 L1402.3,832.2 L1403.8,832.0 L1405.3,831.2 L1406.8,832.2 L1408.3,832.7 L1409.8,832.4 L1411.3,832.6 L1412.8,833.1 L1414.3,834.1 L1415.8,834.1 L1417.3,832.5 L1418.8,831.2 L1420.3,830.0 L1421.8,830.2 L1423.3,830.0 L1424.8,829.1 L1426.3,828.8 L1427.8,829.3 L1429.3,829.9 L1430.8,830.6 L1432.3,831.1 L1433.8,831.7 L1435.3,832.3 L1436.8,832.5 L1438.3,833.1 L1439.8,834.3 L1441.3,835.3 L1442.8,836.3 L1444.3,835.9 L1445.8,835.0 L1447.3,835.0 L1448.8,834.7 L1450.3,834.4 L1451.8,834.7 L1453.3,834.7 L1454.8,834.2 L1456.3,833.0 L1457.8,831.5 L1459.3,831.6 L1460.8,831.2 L1462.3,829.8 L1463.8,829.3 L1465.3,829.2 L1466.8,829.4 L1468.3,829.5 L1469.8,829.5 L1471.3,829.3 L1472.8,829.1 L1474.3,827.9 L1475.8,826.8 L1477.3,825.8 L1478.8,825.9 L1480.3,826.4 L1481.8,825.5 L1483.3,824.8 L1484.8,824.6 L1486.3,824.0 L1487.8,823.3 L1489.3,823.1 L1490.5,822.8 L1490.5,862.8 L1489.3,862.8 L1487.8,862.6 L1486.3,861.6 L1484.8,861.3 L1483.3,862.4 L1481.8,863.4 L1480.3,864.4 L1478.8,864.2 L1477.3,864.1 L1475.8,864.2 L1474.3,863.9 L1472.8,863.2 L1471.3,863.2 L1469.8,863.2 L1468.3,863.0 L1466.8,864.1 L1465.3,865.7 L1463.8,864.1 L1462.3,863.0 L1460.8,863.2 L1459.3,863.6 L1457.8,864.1 L1456.3,864.1 L1454.8,864.1 L1453.3,864.2 L1451.8,863.8 L1450.3,863.1 L1448.8,862.8 L1447.3,862.7 L1445.8,862.8 L1444.3,862.0 L1442.8,860.8 L1441.3,861.0 L1439.8,861.0 L1438.3,860.6 L1436.8,860.3 L1435.3,860.1 L1433.8,860.3 L1432.3,860.5 L1430.8,860.7 L1429.3,860.8 L1427.8,860.8 L1426.3,860.3 L1424.8,860.0 L1423.3,860.3 L1421.8,861.0 L1420.3,861.8 L1418.8,860.9 L1417.3,860.0 L1415.8,859.2 L1414.3,859.7 L1412.8,861.0 L1411.3,860.8 L1409.8,860.2 L1408.3,859.1 L1406.8,858.2 L1405.3,857.5 L1403.8,858.6 L1402.3,859.2 L1400.8,858.9 L1399.3,859.5 L1397.8,860.5 L1396.3,861.0 L1394.8,861.3 L1393.3,861.5 L1391.8,860.7 L1390.3,859.4 L1388.8,858.6 L1387.3,858.0 L1385.8,857.5 L1384.3,858.9 L1382.8,861.1 L1381.3,861.2 L1379.8,860.6 L1378.3,858.5 L1376.8,857.9 L1375.3,858.0 L1373.8,857.1 L1372.3,856.2 L1370.8,855.3 L1369.3,856.2 L1367.8,857.9 L1366.3,856.6 L1364.8,856.3 L1363.3,857.6 L1361.8,857.2 L1360.3,856.1 L1358.8,856.6 L1357.3,857.0 L1355.8,857.4 L1354.3,858.1 L1352.8,859.0 L1351.3,858.6 L1349.8,858.4 L1348.3,858.6 L1346.8,858.7 L1345.3,858.9 L1343.8,858.6 L1342.3,858.7 L1340.8,859.7 L1339.3,859.9 L1337.8,859.7 L1336.3,861.2 L1334.8,861.9 L1333.3,861.3 L1331.8,861.9 L1330.3,863.2 L1328.8,860.7 L1327.3,859.5 L1325.8,860.7 L1324.3,860.9 L1322.8,860.7 L1321.3,861.2 L1319.8,861.4 L1318.3,861.1 L1316.8,859.8 L1315.3,858.2 L1313.8,859.3 L1312.3,859.3 L1310.8,857.4 L1309.3,857.5 L1307.8,858.6 L1306.3,858.5 L1304.8,858.4 L1303.3,858.3 L1301.8,857.6 L1300.3,856.6 L1298.8,856.0 L1297.3,855.4 L1295.8,855.0 L1294.3,855.6 L1292.8,856.7 L1291.3,855.8 L1289.8,855.6 L1288.3,857.0 L1286.8,856.1 L1285.3,854.0 L1283.8,854.4 L1282.3,854.3 L1280.8,853.2 L1279.3,853.4 L1277.8,854.1 L1276.3,854.1 L1274.8,854.0 L1273.3,853.8 L1271.8,853.6 L1270.3,853.4 L1268.8,851.5 L1267.3,850.4 L1265.8,851.1 L1264.3,851.3 L1262.8,851.2 L1261.3,851.0 L1259.8,850.4 L1258.3,849.3 L1256.8,849.6 L1255.3,851.0 L1253.8,852.1 L1252.3,852.8 L1250.8,852.9 L1249.3,853.5 L1247.8,854.1 L1246.3,854.2 L1244.8,854.2 L1243.3,853.9 L1241.8,854.2 L1240.3,854.8 L1238.8,854.6 L1237.3,854.4 L1235.8,854.1 L1234.3,854.4 L1232.8,855.1 L1231.3,854.5 L1229.8,854.2 L1228.3,854.6 L1226.8,855.2 L1225.3,855.8 L1223.8,856.0 L1222.3,855.7 L1220.8,854.7 L1219.3,855.3 L1217.8,856.8 L1216.3,855.3 L1214.8,854.3 L1213.3,854.1 L1211.8,854.8 L1210.3,855.8 L1208.8,856.1 L1207.3,856.2 L1205.8,855.9 L1204.3,855.4 L1202.8,854.8 L1201.3,855.4 L1199.8,855.7 L1198.3,855.5 L1196.8,855.5 L1195.3,855.6 L1193.8,856.7 L1192.3,857.4 L1190.8,857.3 L1189.3,857.0 L1187.8,856.5 L1186.3,856.3 L1184.8,856.0 L1183.3,855.3 L1181.8,855.4 L1180.3,856.0 L1178.8,857.0 L1177.3,857.3 L1175.8,856.0 L1174.3,855.9 L1172.8,856.3 L1171.3,856.5 L1169.8,857.0 L1168.3,857.9 L1166.8,858.0 L1165.3,857.8 L1163.8,857.5 L1162.3,857.3 L1160.8,857.3 L1159.3,857.3 L1157.8,857.5 L1156.3,857.8 L1154.8,857.6 L1153.3,856.2 L1151.8,855.8 L1150.3,856.0 L1148.8,856.4 L1147.3,856.5 L1145.8,856.3 L1144.3,857.2 L1142.8,858.6 L1141.3,857.6 L1139.8,856.8 L1138.3,856.4 L1136.8,857.1 L1135.3,858.3 L1133.8,858.2 L1132.3,858.0 L1130.8,857.7 L1129.3,856.6 L1127.8,855.1 L1126.3,854.4 L1124.8,854.0 L1123.3,854.5 L1121.8,855.2 L1120.3,856.0 L1118.8,853.9 L1117.3,852.7 L1115.8,853.4 L1114.3,852.9 L1112.8,851.8 L1111.3,853.0 L1109.8,853.6 L1108.3,853.1 L1106.8,852.3 L1105.3,851.4 L1103.8,851.8 L1102.3,851.7 L1100.8,850.5 L1099.3,850.5 L1097.8,850.7 L1096.3,847.6 L1094.8,845.3 L1093.3,844.4 L1091.8,843.1 L1090.3,841.5 L1088.8,840.8 L1087.3,839.7 L1085.8,837.4 L1084.3,835.4 L1082.8,833.7 L1081.3,831.2 L1079.8,828.8 L1078.3,826.9 L1076.8,826.6 L1075.3,831.0 L1073.8,834.5 L1072.3,838.0 L1070.8,841.9 L1069.3,845.5 L1067.8,849.0 L1066.3,852.7 L1064.8,856.5 L1063.3,860.8 L1061.8,865.0 L1060.3,866.3 L1058.8,865.0 L1057.3,864.2 L1055.8,864.5 L1054.3,865.4 L1052.8,866.7 L1051.3,864.2 L1049.8,862.6 L1048.3,863.1 L1046.8,864.0 L1045.3,865.1 L1043.8,865.3 L1042.3,865.0 L1040.8,864.0 L1039.3,864.1 L1037.8,864.8 L1036.3,862.8 L1034.8,861.6 L1033.3,861.6 L1031.8,861.9 L1030.3,862.4 L1028.8,861.4 L1027.3,861.2 L1025.8,862.7 L1024.3,862.6 L1022.8,861.7 L1021.3,861.3 L1019.8,861.2 L1018.3,861.1 L1016.8,861.1 L1015.3,861.1 L1013.8,862.6 L1012.3,863.6 L1010.8,863.7 L1009.3,864.2 L1007.8,864.9 L1006.3,865.1 L1004.8,865.1 L1003.3,864.8 L1001.8,865.1 L1000.3,865.8 L998.8,864.5 L997.3,864.2 L995.8,865.7 L994.3,865.9 L992.8,865.4 L991.3,865.1 L989.8,864.6 L988.3,863.9 L986.8,864.5 L985.3,865.9 L983.8,865.3 L982.3,864.6 L980.8,863.8 L979.3,864.6 L977.8,866.1 L976.3,865.3 L974.8,864.6 L973.3,864.0 L971.8,864.7 L970.3,866.1 L968.8,865.9 L967.3,865.5 L965.8,864.7 L964.3,865.0 L962.8,865.9 L961.3,865.6 L959.8,865.8 L958.3,866.7 L956.8,866.7 L955.3,866.1 L953.8,865.4 L952.3,864.8 L950.8,864.6 L949.3,864.7 L947.8,864.9 L946.3,865.5 L944.8,865.5 L943.3,863.9 L941.8,864.4 L940.3,865.8 L938.8,865.6 L937.3,865.3 L935.8,864.9 L934.3,864.6 L932.8,864.4 L931.3,865.1 L929.8,865.8 L928.3,866.3 L926.8,865.6 L925.3,864.1 L923.8,864.1 L922.3,864.0 L920.8,864.1 L919.3,864.8 L917.8,865.9 L916.3,864.5 L914.8,863.7 L913.3,864.0 L911.8,864.2 L910.3,864.6 L908.8,864.4 L907.3,864.5 L905.8,865.1 L904.3,865.1 L902.8,865.0 L901.3,865.4 L899.8,865.4 L898.3,864.1 L896.8,864.5 L895.3,865.8 L893.8,867.0 L892.3,867.6 L890.8,866.8 L889.3,866.6 L887.8,866.5 L886.3,867.8 L884.8,868.4 L883.3,867.9 L881.8,868.4 L880.3,869.5 Z" fill="#f0f0f0"/>
<path d="M880.3,994.6 L881.8,994.1 L883.3,993.6 L884.8,993.3 L886.3,992.0 L887.8,991.1 L889.3,991.3 L890.8,991.9 L892.3,993.3 L893.8,994.6 L895.3,995.8 L896.8,995.8 L898.3,996.6 L899.8,999.1 L901.3,999.9 L902.8,999.5 L904.3,1000.6 L905.8,1001.4 L907.3,1001.5 L908.8,1001.6 L910.3,1001.6 L911.8,1003.1 L913.3,1003.8 L914.8,1002.8 L916.3,1002.7 L917.8,1003.0 L919.3,1003.9 L920.8,1004.7 L922.3,1005.4 L923.8,1005.5 L925.3,1005.3 L926.8,1005.1 L928.3,1005.4 L929.8,1006.2 L931.3,1006.4 L932.8,1006.3 L934.3,1007.0 L935.8,1007.1 L937.3,1005.6 L938.8,1006.0 L940.3,1007.3 L941.8,1007.9 L943.3,1008.5 L944.8,1009.0 L946.3,1010.4 L947.8,1012.4 L949.3,1013.1 L950.8,1012.8 L952.3,1011.5 L953.8,1011.1 L955.3,1011.1 L956.8,1010.6 L958.3,1010.7 L959.8,1012.0 L961.3,1011.5 L962.8,1010.1 L964.3,1010.6 L965.8,1010.6 L967.3,1009.6 L968.8,1009.6 L970.3,1010.5 L971.8,1010.3 L973.3,1010.0 L974.8,1009.3 L976.3,1010.2 L977.8,1012.0 L979.3,1012.5 L980.8,1012.5 L982.3,1011.2 L983.8,1011.8 L985.3,1013.2 L986.8,1013.3 L988.3,1013.4 L989.8,1013.3 L991.3,1013.8 L992.8,1014.6 L994.3,1013.9 L995.8,1013.8 L997.3,1015.3 L998.8,1016.2 L1000.3,1016.8 L1001.8,1015.4 L1003.3,1014.8 L1004.8,1015.6 L1006.3,1016.5 L1007.8,1017.5 L1009.3,1016.8 L1010.8,1016.2 L1012.3,1015.9 L1013.8,1015.8 L1015.3,1015.6 L1016.8,1016.4 L1018.3,1016.8 L1019.8,1016.7 L1021.3,1017.1 L1022.8,1017.6 L1024.3,1016.4 L1025.8,1016.1 L1027.3,1017.8 L1028.8,1017.7 L1030.3,1016.4 L1031.8,1016.7 L1033.3,1016.5 L1034.8,1015.4 L1036.3,1014.5 L1037.8,1013.9 L1039.3,1014.0 L1040.8,1013.8 L1042.3,1013.3 L1043.8,1013.1 L1045.3,1013.1 L1046.8,1013.4 L1048.3,1013.5 L1049.8,1013.5 L1051.3,1012.9 L1052.8,1012.0 L1054.3,1011.2 L1055.8,1011.1 L1057.3,1011.8 L1058.8,1012.9 L1060.3,1014.2 L1061.8,1015.2 L1063.3,1015.8 L1064.8,1015.6 L1066.3,1016.0 L1067.8,1015.3 L1069.3,1011.1 L1070.8,1007.3 L1072.3,1004.1 L1073.8,1000.8 L1075.3,999.8 L1076.8,999.7 L1078.3,1001.0 L1079.8,1005.1 L1081.3,1007.6 L1082.8,1009.4 L1084.3,1010.5 L1085.8,1011.1 L1087.3,1012.9 L1088.8,1013.5 L1090.3,1013.5 L1091.8,1014.0 L1093.3,1014.1 L1094.8,1013.3 L1096.3,1014.6 L1097.8,1016.9 L1099.3,1016.0 L1100.8,1015.3 L1102.3,1015.3 L1103.8,1016.2 L1105.3,1017.5 L1106.8,1017.3 L1108.3,1017.2 L1109.8,1017.5 L1111.3,1018.0 L1112.8,1018.4 L1114.3,1016.7 L1115.8,1016.4 L1117.3,1018.9 L1118.8,1019.1 L1120.3,1018.1 L1121.8,1018.7 L1123.3,1019.3 L1124.8,1020.0 L1126.3,1019.7 L1127.8,1018.9 L1129.3,1019.8 L1130.8,1020.4 L1132.3,1020.5 L1133.8,1020.2 L1135.3,1019.7 L1136.8,1019.9 L1138.3,1019.6 L1139.8,1018.3 L1141.3,1017.9 L1142.8,1018.1 L1144.3,1018.0 L1145.8,1018.3 L1147.3,1019.1 L1148.8,1020.7 L1150.3,1022.6 L1151.8,1020.5 L1153.3,1018.9 L1154.8,1018.6 L1156.3,1018.4 L1157.8,1018.4 L1159.3,1019.0 L1160.8,1019.2 L1162.3,1019.0 L1163.8,1018.1 L1165.3,1016.9 L1166.8,1018.1 L1168.3,1018.7 L1169.8,1018.0 L1171.3,1018.0 L1172.8,1018.5 L1174.3,1016.7 L1175.8,1015.6 L1177.3,1015.8 L1178.8,1016.6 L1180.3,1017.8 L1181.8,1016.3 L1183.3,1015.7 L1184.8,1016.9 L1186.3,1017.3 L1187.8,1017.2 L1189.3,1017.0 L1190.8,1016.9 L1192.3,1017.1 L1193.8,1017.2 L1195.3,1017.2 L1196.8,1017.3 L1198.3,1017.3 L1199.8,1016.8 L1201.3,1016.9 L1202.8,1017.1 L1204.3,1019.0 L1205.8,1019.8 L1207.3,1018.8 L1208.8,1018.3 L1210.3,1018.0 L1211.8,1018.0 L1213.3,1017.7 L1214.8,1017.1 L1216.3,1017.3 L1217.8,1017.9 L1219.3,1017.7 L1220.8,1017.8 L1222.3,1018.6 L1223.8,1018.1 L1225.3,1017.1 L1226.8,1016.2 L1228.3,1016.1 L1229.8,1017.2 L1231.3,1018.1 L1232.8,1018.9 L1234.3,1020.0 L1235.8,1020.5 L1237.3,1019.7 L1238.8,1018.7 L1240.3,1017.5 L1241.8,1017.6 L1243.3,1017.5 L1244.8,1016.7 L1246.3,1016.6 L1247.8,1016.7 L1249.3,1016.0 L1250.8,1015.2 L1252.3,1014.5 L1253.8,1014.8 L1255.3,1015.8 L1256.8,1015.3 L1258.3,1014.8 L1259.8,1014.3 L1261.3,1014.4 L1262.8,1015.2 L1264.3,1016.6 L1265.8,1017.4 L1267.3,1016.7 L1268.8,1016.6 L1270.3,1016.8 L1271.8,1018.0 L1273.3,1018.4 L1274.8,1017.3 L1276.3,1017.2 L1277.8,1018.0 L1279.3,1016.5 L1280.8,1015.3 L1282.3,1014.7 L1283.8,1014.4 L1285.3,1014.4 L1286.8,1014.7 L1288.3,1014.3 L1289.8,1012.9 L1291.3,1013.2 L1292.8,1014.4 L1294.3,1014.2 L1295.8,1013.7 L1297.3,1012.8 L1298.8,1013.6 L1300.3,1015.1 L1301.8,1014.2 L1303.3,1013.5 L1304.8,1013.3 L1306.3,1013.6 L1307.8,1014.1 L1309.3,1014.3 L1310.8,1014.7 L1312.3,1015.7 L1313.8,1015.6 L1315.3,1014.9 L1316.8,1016.4 L1318.3,1017.2 L1319.8,1016.6 L1321.3,1016.1 L1322.8,1015.7 L1324.3,1015.8 L1325.8,1016.1 L1327.3,1016.9 L1328.8,1016.3 L1330.3,1015.1 L1331.8,1015.2 L1333.3,1015.5 L1334.8,1016.4 L1336.3,1017.5 L1337.8,1018.5 L1339.3,1018.4 L1340.8,1018.3 L1342.3,1018.4 L1343.8,1018.4 L1345.3,1017.8 L1346.8,1016.1 L1348.3,1015.2 L1349.8,1015.8 L1351.3,1015.1 L1352.8,1013.7 L1354.3,1014.7 L1355.8,1015.1 L1357.3,1014.0 L1358.8,1013.3 L1360.3,1012.8 L1361.8,1012.6 L1363.3,1012.4 L1364.8,1012.0 L1366.3,1011.6 L1367.8,1011.2 L1369.3,1010.9 L1370.8,1010.4 L1372.3,1009.5 L1373.8,1008.7 L1375.3,1007.9 L1376.8,1008.5 L1378.3,1009.1 L1379.8,1009.4 L1381.3,1009.1 L1382.8,1008.5 L1384.3,1007.4 L1385.8,1006.7 L1387.3,1006.8 L1388.8,1007.7 L1390.3,1008.1 L1391.8,1009.7 L1393.3,1010.9 L1394.8,1011.3 L1396.3,1012.5 L1397.8,1014.0 L1399.3,1016.2 L1400.8,1016.4 L1402.3,1015.2 L1403.8,1014.8 L1405.3,1014.7 L1406.8,1012.9 L1408.3,1011.5 L1409.8,1011.1 L1411.3,1010.9 L1412.8,1010.8 L1414.3,1010.6 L1415.8,1010.2 L1417.3,1009.3 L1418.8,1009.2 L1420.3,1009.4 L1421.8,1008.0 L1423.3,1007.3 L1424.8,1008.8 L1426.3,1009.8 L1427.8,1010.3 L1429.3,1009.8 L1430.8,1010.0 L1432.3,1011.8 L1433.8,1012.5 L1435.3,1012.8 L1436.8,1013.7 L1438.3,1013.7 L1439.8,1012.6 L1441.3,1012.4 L1442.8,1012.7 L1444.3,1012.7 L1445.8,1011.9 L1447.3,1009.7 L1448.8,1009.2 L1450.3,1009.6 L1451.8,1010.6 L1453.3,1011.1 L1454.8,1010.8 L1456.3,1011.0 L1457.8,1011.5 L1459.3,1010.8 L1460.8,1010.0 L1462.3,1008.9 L1463.8,1009.1 L1465.3,1009.9 L1466.8,1009.0 L1468.3,1008.5 L1469.8,1008.6 L1471.3,1008.4 L1472.8,1008.1 L1474.3,1008.4 L1475.8,1008.2 L1477.3,1006.9 L1478.8,1006.5 L1480.3,1006.5 L1481.8,1005.6 L1483.3,1006.1 L1484.8,1009.0 L1486.3,1009.0 L1487.8,1007.4 L1489.3,1007.8 L1490.5,1008.1 L1490.5,1043.0 L1489.3,1043.4 L1487.8,1043.9 L1486.3,1045.1 L1484.8,1045.8 L1483.3,1045.8 L1481.8,1045.6 L1480.3,1045.1 L1478.8,1045.8 L1477.3,1046.0 L1475.8,1045.5 L1474.3,1045.3 L1472.8,1045.2 L1471.3,1045.4 L1469.8,1045.8 L1468.3,1046.4 L1466.8,1046.3 L1465.3,1045.9 L1463.8,1046.7 L1462.3,1047.4 L1460.8,1047.7 L1459.3,1047.6 L1457.8,1047.3 L1456.3,1047.7 L1454.8,1047.9 L1453.3,1048.0 L1451.8,1048.2 L1450.3,1048.4 L1448.8,1049.5 L1447.3,1049.8 L1445.8,1048.9 L1444.3,1049.0 L1442.8,1049.7 L1441.3,1049.6 L1439.8,1049.3 L1438.3,1048.5 L1436.8,1048.1 L1435.3,1047.8 L1433.8,1048.6 L1432.3,1048.8 L1430.8,1047.9 L1429.3,1047.7 L1427.8,1047.8 L1426.3,1049.7 L1424.8,1050.2 L1423.3,1048.0 L1421.8,1047.2 L1420.3,1047.2 L1418.8,1048.2 L1417.3,1048.9 L1415.8,1049.0 L1414.3,1048.3 L1412.8,1047.3 L1411.3,1047.2 L1409.8,1047.2 L1408.3,1047.8 L1406.8,1047.7 L1405.3,1047.3 L1403.8,1048.2 L1402.3,1048.5 L1400.8,1047.8 L1399.3,1047.5 L1397.8,1047.4 L1396.3,1048.2 L1394.8,1048.6 L1393.3,1047.8 L1391.8,1048.3 L1390.3,1049.5 L1388.8,1048.4 L1387.3,1047.8 L1385.8,1048.1 L1384.3,1048.2 L1382.8,1048.4 L1381.3,1046.8 L1379.8,1046.6 L1378.3,1049.1 L1376.8,1049.9 L1375.3,1049.8 L1373.8,1049.0 L1372.3,1048.6 L1370.8,1049.0 L1369.3,1049.4 L1367.8,1050.0 L1366.3,1049.9 L1364.8,1049.8 L1363.3,1049.8 L1361.8,1050.8 L1360.3,1052.3 L1358.8,1050.8 L1357.3,1049.8 L1355.8,1049.6 L1354.3,1049.8 L1352.8,1050.2 L1351.3,1049.2 L1349.8,1048.8 L1348.3,1049.4 L1346.8,1049.4 L1345.3,1049.0 L1343.8,1049.7 L1342.3,1050.3 L1340.8,1050.4 L1339.3,1050.0 L1337.8,1049.3 L1336.3,1049.9 L1334.8,1050.6 L1333.3,1051.5 L1331.8,1051.6 L1330.3,1051.2 L1328.8,1051.7 L1327.3,1051.8 L1325.8,1051.2 L1324.3,1051.6 L1322.8,1052.4 L1321.3,1051.7 L1319.8,1051.7 L1318.3,1053.2 L1316.8,1052.6 L1315.3,1051.0 L1313.8,1052.2 L1312.3,1052.7 L1310.8,1051.9 L1309.3,1052.1 L1307.8,1052.7 L1306.3,1053.1 L1304.8,1053.4 L1303.3,1053.5 L1301.8,1053.4 L1300.3,1053.2 L1298.8,1054.0 L1297.3,1054.4 L1295.8,1054.4 L1294.3,1053.4 L1292.8,1052.0 L1291.3,1052.7 L1289.8,1052.7 L1288.3,1052.3 L1286.8,1051.9 L1285.3,1051.4 L1283.8,1049.9 L1282.3,1049.4 L1280.8,1049.4 L1279.3,1049.1 L1277.8,1048.4 L1276.3,1049.5 L1274.8,1051.0 L1273.3,1053.2 L1271.8,1054.3 L1270.3,1054.7 L1268.8,1052.7 L1267.3,1051.9 L1265.8,1053.6 L1264.3,1054.1 L1262.8,1053.9 L1261.3,1054.2 L1259.8,1053.9 L1258.3,1053.1 L1256.8,1053.1 L1255.3,1053.7 L1253.8,1054.6 L1252.3,1055.2 L1250.8,1055.1 L1249.3,1053.9 L1247.8,1052.2 L1246.3,1053.2 L1244.8,1053.6 L1243.3,1052.9 L1241.8,1051.9 L1240.3,1050.7 L1238.8,1051.1 L1237.3,1051.7 L1235.8,1052.6 L1234.3,1052.8 L1232.8,1052.5 L1231.3,1052.3 L1229.8,1052.0 L1228.3,1051.3 L1226.8,1051.8 L1225.3,1052.9 L1223.8,1052.9 L1222.3,1052.7 L1220.8,1052.0 L1219.3,1051.5 L1217.8,1051.2 L1216.3,1051.1 L1214.8,1051.0 L1213.3,1050.8 L1211.8,1050.6 L1210.3,1050.5 L1208.8,1051.0 L1207.3,1051.8 L1205.8,1053.1 L1204.3,1053.4 L1202.8,1053.3 L1201.3,1052.5 L1199.8,1051.9 L1198.3,1051.8 L1196.8,1053.5 L1195.3,1056.1 L1193.8,1053.5 L1192.3,1052.1 L1190.8,1053.0 L1189.3,1053.0 L1187.8,1052.5 L1186.3,1052.9 L1184.8,1053.1 L1183.3,1052.7 L1181.8,1052.7 L1180.3,1052.9 L1178.8,1052.0 L1177.3,1051.5 L1175.8,1051.9 L1174.3,1051.9 L1172.8,1051.8 L1171.3,1051.7 L1169.8,1051.6 L1168.3,1051.7 L1166.8,1051.8 L1165.3,1051.8 L1163.8,1052.7 L1162.3,1052.6 L1160.8,1050.8 L1159.3,1050.8 L1157.8,1051.7 L1156.3,1050.4 L1154.8,1049.9 L1153.3,1051.2 L1151.8,1051.5 L1150.3,1051.3 L1148.8,1050.7 L1147.3,1050.2 L1145.8,1049.9 L1144.3,1049.6 L1142.8,1049.3 L1141.3,1048.7 L1139.8,1048.8 L1138.3,1050.2 L1136.8,1050.2 L1135.3,1049.5 L1133.8,1050.8 L1132.3,1051.3 L1130.8,1050.4 L1129.3,1049.9 L1127.8,1049.5 L1126.3,1048.9 L1124.8,1048.7 L1123.3,1049.5 L1121.8,1049.4 L1120.3,1048.8 L1118.8,1049.9 L1117.3,1050.2 L1115.8,1049.0 L1114.3,1048.9 L1112.8,1049.2 L1111.3,1048.6 L1109.8,1048.4 L1108.3,1048.6 L1106.8,1049.6 L1105.3,1050.8 L1103.8,1050.4 L1102.3,1050.0 L1100.8,1049.6 L1099.3,1049.0 L1097.8,1048.3 L1096.3,1048.5 L1094.8,1048.6 L1093.3,1048.6 L1091.8,1048.7 L1090.3,1048.9 L1088.8,1048.5 L1087.3,1048.3 L1085.8,1048.9 L1084.3,1049.6 L1082.8,1050.3 L1081.3,1049.9 L1079.8,1050.5 L1078.3,1052.9 L1076.8,1053.7 L1075.3,1053.7 L1073.8,1053.8 L1072.3,1053.2 L1070.8,1052.3 L1069.3,1051.6 L1067.8,1051.1 L1066.3,1051.3 L1064.8,1051.6 L1063.3,1052.1 L1061.8,1052.3 L1060.3,1052.3 L1058.8,1051.8 L1057.3,1051.3 L1055.8,1050.9 L1054.3,1050.5 L1052.8,1050.3 L1051.3,1049.9 L1049.8,1049.6 L1048.3,1049.4 L1046.8,1050.0 L1045.3,1050.8 L1043.8,1049.6 L1042.3,1049.1 L1040.8,1050.3 L1039.3,1051.4 L1037.8,1052.4 L1036.3,1051.1 L1034.8,1050.6 L1033.3,1051.3 L1031.8,1051.0 L1030.3,1050.1 L1028.8,1050.6 L1027.3,1051.1 L1025.8,1051.3 L1024.3,1051.7 L1022.8,1052.2 L1021.3,1050.5 L1019.8,1049.5 L1018.3,1050.4 L1016.8,1050.3 L1015.3,1049.7 L1013.8,1049.3 L1012.3,1049.3 L1010.8,1049.9 L1009.3,1050.0 L1007.8,1049.8 L1006.3,1049.5 L1004.8,1049.1 L1003.3,1048.5 L1001.8,1048.1 L1000.3,1047.9 L998.8,1048.2 L997.3,1048.3 L995.8,1047.9 L994.3,1048.0 L992.8,1048.3 L991.3,1047.2 L989.8,1046.6 L988.3,1047.1 L986.8,1046.9 L985.3,1046.4 L983.8,1045.6 L982.3,1045.2 L980.8,1045.9 L979.3,1046.3 L977.8,1046.5 L976.3,1047.1 L974.8,1047.4 L973.3,1046.9 L971.8,1046.1 L970.3,1045.2 L968.8,1045.5 L967.3,1045.9 L965.8,1046.5 L964.3,1046.3 L962.8,1045.8 L961.3,1046.3 L959.8,1046.5 L958.3,1045.9 L956.8,1046.2 L955.3,1047.0 L953.8,1046.1 L952.3,1046.1 L950.8,1047.5 L949.3,1046.2 L947.8,1043.6 L946.3,1043.8 L944.8,1043.9 L943.3,1043.8 L941.8,1043.2 L940.3,1042.4 L938.8,1041.9 L937.3,1041.4 L935.8,1041.1 L934.3,1041.5 L932.8,1041.9 L931.3,1042.6 L929.8,1043.0 L928.3,1043.0 L926.8,1042.8 L925.3,1042.6 L923.8,1043.3 L922.3,1043.8 L920.8,1043.9 L919.3,1044.2 L917.8,1044.5 L916.3,1043.1 L914.8,1043.1 L913.3,1045.8 L911.8,1046.4 L910.3,1046.1 L908.8,1046.5 L907.3,1046.3 L905.8,1045.1 L904.3,1045.8 L902.8,1047.4 L901.3,1047.5 L899.8,1047.8 L898.3,1048.7 L896.8,1048.6 L895.3,1048.0 L893.8,1047.9 L892.3,1048.1 L890.8,1048.8 L889.3,1049.1 L887.8,1049.2 L886.3,1049.7 L884.8,1049.8 L883.3,1049.4 L881.8,1049.3 L880.3,1049.4 Z" fill="#f0f0f0"/>
<path d="M160.5,848.4 L162.0,848.4 L163.5,848.4 L165.0,848.4 L166.5,848.5 L168.0,847.6 L169.5,846.7 L171.0,847.1 L172.5,847.5 L174.0,847.5 L175.5,847.9 L177.0,848.5 L178.5,849.2 L180.0,849.0 L181.5,848.7 L183.0,849.0 L184.5,849.3 L186.0,849.2 L187.5,849.2 L189.0,849.7 L190.5,850.2 L192.0,850.4 L193.5,850.7 L195.0,850.4 L196.5,850.1 L198.0,849.8 L199.5,849.5 L201.0,849.0 L202.5,848.5 L204.0,848.5 L205.5,848.6 L207.0,848.3 L208.5,848.7 L210.0,849.0 L211.5,849.4 L213.0,849.4 L214.5,849.4 L216.0,849.9 L217.5,850.5 L219.0,850.7 L220.5,851.0 L222.0,850.6 L223.5,850.2 L225.0,850.7 L226.5,851.1 L228.0,850.9 L229.5,850.7 L231.0,850.8 L232.5,850.9 L234.0,851.3 L235.5,851.6 L237.0,851.6 L238.5,851.5 L240.0,851.9 L241.5,852.4 L243.0,852.6 L244.5,852.7 L246.0,852.4 L247.5,852.0 L249.0,851.9 L250.5,851.8 L252.0,851.8 L253.5,851.9 L255.0,851.9 L256.5,851.7 L258.0,851.6 L259.5,851.5 L261.0,850.9 L262.5,850.3 L264.0,850.4 L265.5,850.4 L267.0,850.0 L268.5,849.5 L270.0,849.6 L271.5,849.6 L273.0,849.5 L274.5,849.3 L276.0,849.1 L277.5,848.9 L279.0,848.2 L280.5,847.5 L282.0,846.9 L283.5,846.4 L285.0,846.0 L286.5,845.7 L288.0,845.8 L289.5,845.9 L291.0,845.5 L292.5,845.2 L294.0,845.0 L295.5,844.9 L297.0,845.2 L298.5,845.4 L300.0,845.2 L301.5,845.0 L303.0,845.4 L304.5,845.7 L306.0,846.0 L307.5,846.2 L309.0,845.6 L310.5,845.0 L312.0,845.1 L313.5,845.2 L315.0,844.7 L316.5,844.2 L318.0,844.6 L319.5,845.0 L321.0,844.8 L322.5,844.5 L324.0,844.4 L325.5,844.3 L327.0,844.1 L328.5,843.9 L330.0,844.7 L331.5,845.5 L333.0,844.7 L334.5,843.9 L336.0,844.0 L337.5,844.0 L339.0,844.3 L340.5,844.6 L342.0,844.7 L343.5,842.3" fill="none" stroke="#999" stroke-width="2.2" stroke-linejoin="round"/>
<path d="M525.0,837.8 L526.5,837.6 L528.0,837.4 L529.5,837.1 L531.0,837.3 L532.5,837.9 L534.0,839.0 L535.5,840.0 L537.0,840.6 L538.5,841.3 L540.0,842.0 L541.5,842.4 L543.0,842.0 L544.5,841.6 L546.0,842.3 L547.5,842.9 L549.0,842.9 L550.5,842.8 L552.0,843.0 L553.5,843.2 L555.0,843.6 L556.5,844.1 L558.0,843.9 L559.5,843.7 L561.0,844.0 L562.5,844.3 L564.0,844.5 L565.5,844.8 L567.0,845.0 L568.5,845.1 L570.0,845.3 L571.5,845.5 L573.0,845.8 L574.5,846.1 L576.0,846.1 L577.5,846.1 L579.0,845.9 L580.5,845.6 L582.0,846.4 L583.5,847.1 L585.0,846.5 L586.5,845.9 L588.0,846.0 L589.5,846.2 L591.0,845.9 L592.5,845.6 L594.0,845.3 L595.5,845.0 L597.0,845.3 L598.5,845.7 L600.0,845.9 L601.5,846.2 L603.0,846.3 L604.5,846.4 L606.0,846.3 L607.5,846.2 L609.0,846.4 L610.5,846.6 L612.0,846.7 L613.5,846.8 L615.0,846.8 L616.5,846.8 L618.0,846.2 L619.5,845.3 L621.0,844.6 L622.5,844.0 L624.0,843.2 L625.5,842.4 L627.0,841.6 L628.5,840.7 L630.0,840.6 L631.5,841.3 L633.0,841.1 L634.5,840.8 L636.0,841.5 L637.5,842.2 L639.0,842.6 L640.5,843.1 L642.0,842.9 L643.5,842.7 L645.0,843.8 L646.5,844.9 L648.0,844.8 L649.5,844.6 L651.0,844.8 L652.5,845.0 L654.0,844.9 L655.5,844.8 L657.0,844.6 L658.5,844.3 L660.0,844.8 L661.5,845.3 L663.0,845.4 L664.5,845.4 L666.0,845.7 L667.5,846.0 L669.0,845.9 L670.5,845.8 L672.0,845.3 L673.5,844.9 L675.0,845.6 L676.5,846.4 L678.0,846.2 L679.5,846.0 L681.0,845.9 L682.5,845.9 L684.0,845.7 L685.5,845.6 L687.0,845.2 L688.5,844.8 L690.0,845.0 L691.5,845.3 L693.0,844.9 L694.5,844.6 L696.0,845.4 L697.5,846.1 L699.0,845.2 L700.5,844.4 L702.0,844.1 L703.5,843.8 L705.0,843.9 L706.5,844.0 L708.0,844.4 L709.5,844.8 L711.0,844.3 L712.5,843.9 L714.0,843.5 L715.5,843.1 L717.0,844.1 L718.5,845.2 L720.0,845.0 L721.5,844.7 L723.0,844.6 L724.5,844.5 L726.0,844.8 L727.5,845.2 L729.0,844.9 L730.5,844.5 L732.0,844.5 L733.5,844.5 L735.0,845.1 L736.5,845.7 L738.0,845.4 L739.5,845.1 L741.0,845.5 L742.5,845.8 L744.0,845.7 L745.5,845.7 L747.0,845.9 L748.5,846.2 L750.0,845.9 L751.5,845.4 L753.0,844.6 L754.5,843.8 L756.0,844.2 L757.5,844.6 L759.0,844.0 L760.5,843.4 L762.0,843.5 L763.5,843.6 L765.0,843.2 L766.5,843.3 L768.0,843.9 L769.5,844.5 L770.7,844.4" fill="none" stroke="#999" stroke-width="2.2" stroke-linejoin="round"/>
<path d="M343.5,842.3 L345.0,834.9 L346.5,827.5 L348.0,820.1 L349.5,813.1 L351.0,806.0 L352.5,798.8 L354.0,794.1 L355.5,790.2 L357.0,788.3 L358.5,787.6 L360.0,788.3 L361.5,790.4 L363.0,794.7 L364.5,799.4 L366.0,803.0 L367.5,806.5 L369.0,810.1 L370.5,813.4 L372.0,815.7 L373.5,818.1 L375.0,821.1 L376.5,824.1 L378.0,826.0 L379.5,827.3 L381.0,828.5 L382.5,829.6 L384.0,831.2 L385.5,832.1 L387.0,831.8 L388.5,831.5 L390.0,832.2 L391.5,833.0 L393.0,833.0 L394.5,833.0 L396.0,833.7 L397.5,834.4 L399.0,834.7 L400.5,834.9 L402.0,834.9 L403.5,834.8 L405.0,835.6 L406.5,836.4 L408.0,835.9 L409.5,835.4 L411.0,835.8 L412.5,836.2 L414.0,835.7 L415.5,835.1 L417.0,835.5 L418.5,835.9 L420.0,836.1 L421.5,836.2 L423.0,836.3 L424.5,836.4 L426.0,836.4 L427.5,836.3 L429.0,836.3 L430.5,836.3 L432.0,835.8 L433.5,835.3 L435.0,836.0 L436.5,836.7 L438.0,836.7 L439.5,836.7 L441.0,837.0 L442.5,837.2 L444.0,837.6 L445.5,838.0 L447.0,838.4 L448.5,838.8 L450.0,838.5 L451.5,838.2 L453.0,838.3 L454.5,838.4 L456.0,838.3 L457.5,838.2 L459.0,838.2 L460.5,838.3 L462.0,838.2 L463.5,838.2 L465.0,838.0 L466.5,837.8 L468.0,837.7 L469.5,837.7 L471.0,837.9 L472.5,838.1 L474.0,838.4 L475.5,838.8 L477.0,838.5 L478.5,838.3 L480.0,838.5 L481.5,838.7 L483.0,838.0 L484.5,837.2 L486.0,837.6 L487.5,838.0 L489.0,838.1 L490.5,838.1 L492.0,838.1 L493.5,838.2 L495.0,837.7 L496.5,837.2 L498.0,837.1 L499.5,837.0 L501.0,836.9 L502.5,836.8 L504.0,837.3 L505.5,837.7 L507.0,838.4 L508.5,839.1 L510.0,838.5 L511.5,838.0 L513.0,837.6 L514.5,837.3 L516.0,837.7 L517.5,838.1 L519.0,837.9 L520.5,837.7 L522.0,837.9 L523.5,838.0 L525.0,837.8" fill="none" stroke="#e641be" stroke-width="2.4" stroke-linejoin="round"/>
<path d="M160.5,1027.3 L162.0,1027.6 L163.5,1028.0 L165.0,1028.1 L166.5,1028.2 L168.0,1027.8 L169.5,1027.5 L171.0,1027.4 L172.5,1027.3 L174.0,1027.6 L175.5,1028.2 L177.0,1028.1 L178.5,1028.1 L180.0,1028.7 L181.5,1029.4 L183.0,1029.5 L184.5,1029.6 L186.0,1029.5 L187.5,1029.5 L189.0,1030.0 L190.5,1030.4 L192.0,1030.9 L193.5,1031.0 L195.0,1031.0 L196.5,1031.0 L198.0,1030.6 L199.5,1030.1 L201.0,1029.8 L202.5,1029.5 L204.0,1029.5 L205.5,1029.4 L207.0,1029.4 L208.5,1029.4 L210.0,1029.6 L211.5,1029.9 L213.0,1030.3 L214.5,1030.7 L216.0,1031.6 L217.5,1032.6 L219.0,1032.5 L220.5,1032.4 L222.0,1032.5 L223.5,1032.6 L225.0,1033.1 L226.5,1033.6 L228.0,1034.3 L229.5,1034.7 L231.0,1034.3 L232.5,1033.9 L234.0,1033.6 L235.5,1033.2 L237.0,1032.8 L238.5,1032.3 L240.0,1032.1 L241.5,1031.8 L243.0,1032.0 L244.5,1032.2 L246.0,1032.1 L247.5,1032.0 L249.0,1031.8 L250.5,1031.8 L252.0,1032.2 L253.5,1032.7 L255.0,1033.4 L256.5,1034.1 L258.0,1033.9 L259.5,1033.7 L261.0,1034.0 L262.5,1034.3 L264.0,1034.9 L265.5,1035.4 L267.0,1035.8 L268.5,1036.1 L270.0,1036.2 L271.5,1036.3 L273.0,1036.7 L274.5,1037.0 L276.0,1037.3 L277.5,1037.1 L279.0,1036.3 L280.5,1035.6 L282.0,1034.7 L283.5,1033.9 L285.0,1033.9 L286.5,1034.0 L288.0,1034.1 L289.5,1034.6 L291.0,1035.0 L292.5,1035.5 L294.0,1035.6 L295.5,1035.6 L297.0,1035.8 L298.5,1036.1 L300.0,1035.4 L301.5,1034.7 L303.0,1035.1 L304.5,1035.5 L306.0,1034.9 L307.5,1034.3 L309.0,1034.8 L310.5,1035.3 L312.0,1035.6 L313.5,1035.9 L315.0,1035.6 L316.5,1035.3 L318.0,1035.6 L319.5,1036.0 L321.0,1035.5 L322.5,1035.1 L324.0,1035.1 L325.5,1035.1 L327.0,1034.9 L328.5,1034.8 L330.0,1034.9 L331.5,1035.1 L333.0,1034.9 L334.5,1034.7 L336.0,1034.7 L337.5,1034.5 L339.0,1034.2 L340.5,1033.8 L342.0,1033.0 L343.5,1032.2" fill="none" stroke="#999" stroke-width="2.2" stroke-linejoin="round"/>
<path d="M525.0,1032.2 L526.5,1032.2 L528.0,1031.8 L529.5,1031.4 L531.0,1031.9 L532.5,1032.5 L534.0,1032.6 L535.5,1032.8 L537.0,1032.6 L538.5,1032.4 L540.0,1032.7 L541.5,1033.0 L543.0,1033.1 L544.5,1033.2 L546.0,1033.6 L547.5,1034.0 L549.0,1034.6 L550.5,1035.0 L552.0,1034.2 L553.5,1033.4 L555.0,1033.2 L556.5,1033.1 L558.0,1033.5 L559.5,1033.9 L561.0,1033.6 L562.5,1033.3 L564.0,1032.7 L565.5,1032.1 L567.0,1032.2 L568.5,1032.8 L570.0,1033.2 L571.5,1033.6 L573.0,1034.0 L574.5,1034.4 L576.0,1034.9 L577.5,1035.5 L579.0,1036.0 L580.5,1036.6 L582.0,1036.6 L583.5,1036.7 L585.0,1036.9 L586.5,1036.9 L588.0,1036.6 L589.5,1036.3 L591.0,1036.6 L592.5,1037.0 L594.0,1036.9 L595.5,1036.9 L597.0,1036.4 L598.5,1036.0 L600.0,1035.7 L601.5,1035.5 L603.0,1036.1 L604.5,1036.8 L606.0,1036.4 L607.5,1036.0 L609.0,1035.5 L610.5,1034.9 L612.0,1034.6 L613.5,1034.3 L615.0,1034.6 L616.5,1034.9 L618.0,1035.1 L619.5,1035.4 L621.0,1034.9 L622.5,1034.4 L624.0,1032.4 L625.5,1030.4 L627.0,1028.3 L628.5,1026.1 L630.0,1025.0 L631.5,1024.9 L633.0,1024.8 L634.5,1026.2 L636.0,1026.7 L637.5,1027.1 L639.0,1028.0 L640.5,1028.4 L642.0,1028.6 L643.5,1028.9 L645.0,1029.0 L646.5,1029.1 L648.0,1029.1 L649.5,1029.2 L651.0,1029.9 L652.5,1030.6 L654.0,1030.6 L655.5,1030.3 L657.0,1030.3 L658.5,1030.3 L660.0,1030.4 L661.5,1030.5 L663.0,1029.9 L664.5,1029.3 L666.0,1029.4 L667.5,1029.5 L669.0,1029.1 L670.5,1028.8 L672.0,1028.9 L673.5,1029.1 L675.0,1029.3 L676.5,1029.6 L678.0,1029.6 L679.5,1029.5 L681.0,1029.3 L682.5,1029.1 L684.0,1030.0 L685.5,1030.9 L687.0,1030.7 L688.5,1030.4 L690.0,1030.0 L691.5,1029.6 L693.0,1029.3 L694.5,1028.9 L696.0,1029.4 L697.5,1029.8 L699.0,1029.9 L700.5,1030.0 L702.0,1030.0 L703.5,1030.0 L705.0,1030.0 L706.5,1029.9 L708.0,1029.5 L709.5,1029.0 L711.0,1029.2 L712.5,1029.4 L714.0,1028.7 L715.5,1028.1 L717.0,1028.4 L718.5,1028.7 L720.0,1028.8 L721.5,1028.9 L723.0,1028.4 L724.5,1027.9 L726.0,1027.9 L727.5,1027.9 L729.0,1027.9 L730.5,1027.9 L732.0,1027.8 L733.5,1027.7 L735.0,1027.9 L736.5,1028.2 L738.0,1027.4 L739.5,1026.7 L741.0,1027.5 L742.5,1028.6 L744.0,1028.5 L745.5,1028.4 L747.0,1029.1 L748.5,1029.8 L750.0,1029.4 L751.5,1028.6 L753.0,1027.9 L754.5,1027.3 L756.0,1026.4 L757.5,1027.0 L759.0,1027.8 L760.5,1028.7 L762.0,1029.2 L763.5,1029.4 L765.0,1029.7 L766.5,1030.0 L768.0,1029.3 L769.5,1028.6 L770.7,1028.3" fill="none" stroke="#999" stroke-width="2.2" stroke-linejoin="round"/>
<path d="M343.5,1032.2 L345.0,1029.8 L346.5,1027.2 L348.0,1018.5 L349.5,1006.3 L351.0,993.9 L352.5,984.9 L354.0,979.3 L355.5,977.9 L357.0,979.3 L358.5,982.8 L360.0,988.8 L361.5,995.0 L363.0,1001.1 L364.5,1004.9 L366.0,1006.2 L367.5,1007.5 L369.0,1010.8 L370.5,1014.1 L372.0,1014.2 L373.5,1014.0 L375.0,1014.5 L376.5,1015.6 L378.0,1016.5 L379.5,1017.4 L381.0,1018.8 L382.5,1020.1 L384.0,1021.4 L385.5,1022.4 L387.0,1022.8 L388.5,1023.1 L390.0,1024.6 L391.5,1026.0 L393.0,1026.7 L394.5,1027.0 L396.0,1027.8 L397.5,1028.6 L399.0,1028.8 L400.5,1029.1 L402.0,1029.3 L403.5,1029.6 L405.0,1030.1 L406.5,1030.6 L408.0,1030.9 L409.5,1031.0 L411.0,1030.8 L412.5,1030.6 L414.0,1030.7 L415.5,1030.7 L417.0,1030.4 L418.5,1030.0 L420.0,1029.8 L421.5,1029.7 L423.0,1029.8 L424.5,1029.9 L426.0,1029.7 L427.5,1029.4 L429.0,1029.5 L430.5,1029.8 L432.0,1030.6 L433.5,1031.4 L435.0,1031.5 L436.5,1031.1 L438.0,1031.1 L439.5,1031.1 L441.0,1031.4 L442.5,1031.8 L444.0,1031.3 L445.5,1030.9 L447.0,1030.9 L448.5,1030.9 L450.0,1030.4 L451.5,1030.0 L453.0,1029.9 L454.5,1029.8 L456.0,1029.9 L457.5,1029.9 L459.0,1030.3 L460.5,1030.6 L462.0,1030.2 L463.5,1029.7 L465.0,1029.1 L466.5,1028.5 L468.0,1029.0 L469.5,1029.4 L471.0,1029.5 L472.5,1029.6 L474.0,1029.5 L475.5,1029.4 L477.0,1028.9 L478.5,1028.4 L480.0,1028.6 L481.5,1029.2 L483.0,1030.0 L484.5,1030.9 L486.0,1030.4 L487.5,1029.9 L489.0,1030.5 L490.5,1031.2 L492.0,1031.2 L493.5,1031.2 L495.0,1031.3 L496.5,1031.4 L498.0,1031.7 L499.5,1032.1 L501.0,1032.7 L502.5,1033.2 L504.0,1033.4 L505.5,1033.6 L507.0,1033.3 L508.5,1032.9 L510.0,1033.1 L511.5,1033.4 L513.0,1033.4 L514.5,1033.5 L516.0,1033.2 L517.5,1032.5 L519.0,1032.7 L520.5,1033.0 L522.0,1032.8 L523.5,1032.6 L525.0,1032.2" fill="none" stroke="#e641be" stroke-width="2.4" stroke-linejoin="round"/>
<path d="M880.3,847.5 L881.8,847.1 L883.3,846.7 L884.8,846.0 L886.3,845.3 L887.8,844.6 L889.3,844.7 L890.8,845.6 L892.3,846.5 L893.8,847.5 L895.3,847.8 L896.8,848.1 L898.3,848.4 L899.8,848.4 L901.3,848.4 L902.8,848.4 L904.3,848.3 L905.8,848.6 L907.3,848.9 L908.8,848.7 L910.3,848.5 L911.8,848.8 L913.3,849.1 L914.8,849.5 L916.3,849.9 L917.8,850.0 L919.3,850.0 L920.8,850.1 L922.3,850.3 L923.8,850.0 L925.3,849.7 L926.8,849.9 L928.3,850.1 L929.8,849.9 L931.3,849.7 L932.8,850.3 L934.3,850.9 L935.8,850.6 L937.3,850.4 L938.8,850.2 L940.3,850.1 L941.8,850.4 L943.3,850.7 L944.8,851.0 L946.3,851.2 L947.8,850.7 L949.3,850.2 L950.8,850.5 L952.3,850.8 L953.8,851.5 L955.3,852.1 L956.8,851.6 L958.3,851.1 L959.8,850.8 L961.3,850.5 L962.8,849.8 L964.3,849.1 L965.8,849.7 L967.3,850.2 L968.8,849.8 L970.3,849.3 L971.8,849.0 L973.3,848.6 L974.8,847.9 L976.3,847.2 L977.8,847.3 L979.3,847.5 L980.8,847.3 L982.3,847.4 L983.8,847.3 L985.3,847.1 L986.8,847.4 L988.3,847.6 L989.8,847.8 L991.3,847.9 L992.8,848.4 L994.3,848.9 L995.8,848.9 L997.3,849.0 L998.8,849.2 L1000.3,849.4 L1001.8,849.3 L1003.3,849.0 L1004.8,848.8 L1006.3,848.7 L1007.8,849.3 L1009.3,849.9 L1010.8,850.0 L1012.3,850.1 L1013.8,849.9 L1015.3,849.6 L1016.8,849.7 L1018.3,849.8 L1019.8,849.3 L1021.3,848.7 L1022.8,848.8 L1024.3,848.8 L1025.8,848.9 L1027.3,848.9 L1028.8,848.7 L1030.3,848.5 L1031.8,848.9 L1033.3,849.3 L1034.8,848.5 L1036.3,847.9 L1037.8,848.3 L1039.3,848.7 L1040.8,848.9 L1042.3,849.1 L1043.8,849.2 L1045.3,849.3 L1046.8,849.9 L1048.3,850.5 L1049.8,849.9 L1051.3,849.4 L1052.8,850.4 L1054.3,851.3 L1055.8,851.4 L1057.3,851.6 L1058.8,851.6 L1060.3,851.6 L1061.8,851.9 L1063.3,848.0" fill="none" stroke="#999" stroke-width="2.2" stroke-linejoin="round"/>
<path d="M1246.3,838.4 L1247.8,837.5 L1249.3,836.6 L1250.8,836.1 L1252.3,835.5 L1253.8,834.6 L1255.3,833.6 L1256.8,832.7 L1258.3,831.8 L1259.8,831.3 L1261.3,831.3 L1262.8,831.5 L1264.3,831.7 L1265.8,832.5 L1267.3,833.2 L1268.8,834.0 L1270.3,834.8 L1271.8,834.9 L1273.3,835.0 L1274.8,835.6 L1276.3,836.1 L1277.8,836.1 L1279.3,836.0 L1280.8,836.8 L1282.3,837.5 L1283.8,837.5 L1285.3,837.4 L1286.8,838.2 L1288.3,838.9 L1289.8,838.9 L1291.3,838.9 L1292.8,839.1 L1294.3,839.2 L1295.8,839.6 L1297.3,840.1 L1298.8,840.0 L1300.3,839.8 L1301.8,839.8 L1303.3,839.7 L1304.8,840.5 L1306.3,841.2 L1307.8,841.2 L1309.3,841.1 L1310.8,841.6 L1312.3,842.0 L1313.8,842.0 L1315.3,842.0 L1316.8,842.5 L1318.3,843.0 L1319.8,842.7 L1321.3,842.5 L1322.8,842.6 L1324.3,842.7 L1325.8,843.0 L1327.3,843.2 L1328.8,844.0 L1330.3,844.7 L1331.8,844.3 L1333.3,843.9 L1334.8,844.2 L1336.3,843.8 L1337.8,843.2 L1339.3,842.6 L1340.8,842.4 L1342.3,842.1 L1343.8,841.4 L1345.3,840.8 L1346.8,839.8 L1348.3,838.8 L1349.8,838.5 L1351.3,838.2 L1352.8,837.5 L1354.3,837.9 L1355.8,838.7 L1357.3,839.5 L1358.8,840.0 L1360.3,840.5 L1361.8,840.7 L1363.3,840.9 L1364.8,841.7 L1366.3,842.1 L1367.8,842.2 L1369.3,842.3 L1370.8,842.6 L1372.3,843.0 L1373.8,843.1 L1375.3,843.2 L1376.8,843.4 L1378.3,843.5 L1379.8,843.9 L1381.3,844.3 L1382.8,844.3 L1384.3,844.3 L1385.8,844.7 L1387.3,845.0 L1388.8,845.0 L1390.3,845.0 L1391.8,845.1 L1393.3,845.2 L1394.8,845.6 L1396.3,846.0 L1397.8,846.2 L1399.3,846.4 L1400.8,846.6 L1402.3,846.8 L1403.8,846.8 L1405.3,846.8 L1406.8,846.7 L1408.3,846.7 L1409.8,846.9 L1411.3,847.2 L1412.8,847.3 L1414.3,847.4 L1415.8,847.0 L1417.3,846.6 L1418.8,846.8 L1420.3,847.0 L1421.8,847.8 L1423.3,848.5 L1424.8,848.2 L1426.3,847.8 L1427.8,847.2 L1429.3,846.6 L1430.8,847.3 L1432.3,848.1 L1433.8,848.2 L1435.3,848.3 L1436.8,848.1 L1438.3,847.8 L1439.8,848.7 L1441.3,849.7 L1442.8,849.5 L1444.3,849.2 L1445.8,849.0 L1447.3,848.7 L1448.8,848.3 L1450.3,847.8 L1451.8,847.8 L1453.3,847.7 L1454.8,847.6 L1456.3,847.5 L1457.8,847.2 L1459.3,846.9 L1460.8,846.4 L1462.3,846.0 L1463.8,846.0 L1465.3,846.0 L1466.8,845.8 L1468.3,845.7 L1469.8,845.6 L1471.3,845.5 L1472.8,845.1 L1474.3,844.6 L1475.8,844.8 L1477.3,845.0 L1478.8,844.8 L1480.3,844.7 L1481.8,844.6 L1483.3,844.5 L1484.8,844.4 L1486.3,844.2 L1487.8,842.9 L1489.3,841.7 L1490.5,841.5" fill="none" stroke="#999" stroke-width="2.2" stroke-linejoin="round"/>
<path d="M1063.3,848.0 L1064.8,840.5 L1066.3,833.0 L1067.8,824.8 L1069.3,816.9 L1070.8,810.0 L1072.3,803.2 L1073.8,797.8 L1075.3,794.8 L1076.8,794.1 L1078.3,794.9 L1079.8,797.1 L1081.3,800.2 L1082.8,804.6 L1084.3,809.0 L1085.8,813.9 L1087.3,818.7 L1088.8,822.9 L1090.3,825.4 L1091.8,827.7 L1093.3,830.0 L1094.8,831.9 L1096.3,833.9 L1097.8,835.5 L1099.3,836.5 L1100.8,837.3 L1102.3,838.2 L1103.8,838.7 L1105.3,839.2 L1106.8,839.8 L1108.3,840.4 L1109.8,841.3 L1111.3,841.5 L1112.8,841.0 L1114.3,840.6 L1115.8,840.4 L1117.3,840.2 L1118.8,839.5 L1120.3,838.7 L1121.8,839.2 L1123.3,839.6 L1124.8,838.9 L1126.3,838.4 L1127.8,839.1 L1129.3,839.8 L1130.8,840.7 L1132.3,841.6 L1133.8,842.1 L1135.3,842.5 L1136.8,842.4 L1138.3,842.3 L1139.8,842.5 L1141.3,842.1 L1142.8,842.2 L1144.3,842.3 L1145.8,841.8 L1147.3,841.2 L1148.8,841.1 L1150.3,841.0 L1151.8,840.3 L1153.3,839.5 L1154.8,839.8 L1156.3,840.2 L1157.8,840.0 L1159.3,839.8 L1160.8,838.7 L1162.3,837.6 L1163.8,837.5 L1165.3,837.7 L1166.8,837.8 L1168.3,838.0 L1169.8,838.5 L1171.3,839.0 L1172.8,838.4 L1174.3,837.9 L1175.8,838.6 L1177.3,839.3 L1178.8,839.3 L1180.3,839.3 L1181.8,839.3 L1183.3,839.3 L1184.8,839.8 L1186.3,840.4 L1187.8,839.8 L1189.3,839.3 L1190.8,839.3 L1192.3,839.1 L1193.8,838.9 L1195.3,838.7 L1196.8,838.8 L1198.3,838.8 L1199.8,838.2 L1201.3,837.6 L1202.8,837.1 L1204.3,836.7 L1205.8,836.6 L1207.3,836.6 L1208.8,836.0 L1210.3,835.5 L1211.8,835.2 L1213.3,835.1 L1214.8,835.1 L1216.3,835.2 L1217.8,835.3 L1219.3,835.4 L1220.8,836.0 L1222.3,836.5 L1223.8,835.6 L1225.3,834.6 L1226.8,834.9 L1228.3,835.2 L1229.8,835.4 L1231.3,835.6 L1232.8,835.9 L1234.3,836.2 L1235.8,837.0 L1237.3,837.8 L1238.8,838.0 L1240.3,838.1 L1241.8,838.4 L1243.3,838.7 L1244.8,838.8 L1246.3,838.4" fill="none" stroke="#005a9c" stroke-width="2.4" stroke-linejoin="round"/>
<path d="M880.3,1021.7 L881.8,1020.8 L883.3,1019.9 L884.8,1019.9 L886.3,1019.8 L887.8,1019.6 L889.3,1019.8 L890.8,1020.3 L892.3,1020.8 L893.8,1021.5 L895.3,1022.3 L896.8,1022.5 L898.3,1022.8 L899.8,1023.5 L901.3,1024.3 L902.8,1024.0 L904.3,1023.7 L905.8,1023.5 L907.3,1023.4 L908.8,1023.8 L910.3,1024.3 L911.8,1023.8 L913.3,1023.3 L914.8,1024.5 L916.3,1025.7 L917.8,1025.5 L919.3,1025.3 L920.8,1025.4 L922.3,1025.5 L923.8,1025.2 L925.3,1024.8 L926.8,1024.4 L928.3,1023.9 L929.8,1023.8 L931.3,1023.7 L932.8,1023.3 L934.3,1022.9 L935.8,1022.7 L937.3,1022.6 L938.8,1024.2 L940.3,1026.4 L941.8,1027.9 L943.3,1027.8 L944.8,1028.9 L946.3,1029.9 L947.8,1029.6 L949.3,1029.2 L950.8,1030.0 L952.3,1030.8 L953.8,1030.8 L955.3,1030.0 L956.8,1029.5 L958.3,1029.0 L959.8,1029.0 L961.3,1029.1 L962.8,1028.6 L964.3,1028.2 L965.8,1027.7 L967.3,1027.3 L968.8,1027.2 L970.3,1027.5 L971.8,1027.6 L973.3,1027.7 L974.8,1028.3 L976.3,1028.8 L977.8,1028.9 L979.3,1028.9 L980.8,1029.3 L982.3,1029.7 L983.8,1030.3 L985.3,1030.8 L986.8,1030.5 L988.3,1030.2 L989.8,1030.6 L991.3,1031.1 L992.8,1031.2 L994.3,1031.3 L995.8,1031.4 L997.3,1031.5 L998.8,1031.5 L1000.3,1031.5 L1001.8,1031.9 L1003.3,1032.3 L1004.8,1032.5 L1006.3,1032.7 L1007.8,1032.8 L1009.3,1032.9 L1010.8,1032.6 L1012.3,1032.4 L1013.8,1033.1 L1015.3,1033.8 L1016.8,1033.9 L1018.3,1034.1 L1019.8,1034.0 L1021.3,1034.0 L1022.8,1033.8 L1024.3,1033.6 L1025.8,1033.7 L1027.3,1033.7 L1028.8,1034.5 L1030.3,1035.2 L1031.8,1035.2 L1033.3,1035.2 L1034.8,1034.9 L1036.3,1034.7 L1037.8,1034.4 L1039.3,1034.1 L1040.8,1034.6 L1042.3,1035.2 L1043.8,1035.0 L1045.3,1034.8 L1046.8,1034.5 L1048.3,1033.9 L1049.8,1032.3 L1051.3,1030.8 L1052.8,1030.1 L1054.3,1029.4 L1055.8,1029.1 L1057.3,1029.7 L1058.8,1030.6 L1060.3,1031.6 L1061.8,1031.9" fill="none" stroke="#999" stroke-width="2.2" stroke-linejoin="round"/>
<path d="M1246.3,1034.6 L1247.8,1034.7 L1249.3,1034.7 L1250.8,1034.4 L1252.3,1034.1 L1253.8,1034.1 L1255.3,1034.1 L1256.8,1034.0 L1258.3,1033.8 L1259.8,1033.9 L1261.3,1034.0 L1262.8,1034.7 L1264.3,1035.3 L1265.8,1034.0 L1267.3,1032.6 L1268.8,1032.8 L1270.3,1032.9 L1271.8,1033.0 L1273.3,1033.1 L1274.8,1032.8 L1276.3,1032.5 L1277.8,1032.7 L1279.3,1032.9 L1280.8,1032.1 L1282.3,1031.4 L1283.8,1031.7 L1285.3,1032.0 L1286.8,1031.5 L1288.3,1032.3 L1289.8,1033.8 L1291.3,1035.4 L1292.8,1035.6 L1294.3,1035.2 L1295.8,1035.0 L1297.3,1034.8 L1298.8,1034.4 L1300.3,1034.0 L1301.8,1033.5 L1303.3,1032.9 L1304.8,1032.9 L1306.3,1032.9 L1307.8,1033.1 L1309.3,1033.3 L1310.8,1032.9 L1312.3,1032.4 L1313.8,1032.5 L1315.3,1032.5 L1316.8,1031.8 L1318.3,1031.0 L1319.8,1031.3 L1321.3,1031.6 L1322.8,1031.5 L1324.3,1031.8 L1325.8,1031.3 L1327.3,1030.9 L1328.8,1031.8 L1330.3,1032.8 L1331.8,1033.6 L1333.3,1034.3 L1334.8,1034.0 L1336.3,1033.7 L1337.8,1034.5 L1339.3,1035.3 L1340.8,1035.4 L1342.3,1035.5 L1343.8,1035.6 L1345.3,1035.6 L1346.8,1035.1 L1348.3,1034.7 L1349.8,1034.4 L1351.3,1034.2 L1352.8,1034.1 L1354.3,1034.0 L1355.8,1033.9 L1357.3,1033.7 L1358.8,1033.5 L1360.3,1033.3 L1361.8,1033.1 L1363.3,1032.8 L1364.8,1033.2 L1366.3,1033.5 L1367.8,1032.9 L1369.3,1032.4 L1370.8,1032.0 L1372.3,1031.6 L1373.8,1031.1 L1375.3,1030.7 L1376.8,1030.5 L1378.3,1030.3 L1379.8,1029.1 L1381.3,1027.9 L1382.8,1028.0 L1384.3,1028.2 L1385.8,1027.7 L1387.3,1027.2 L1388.8,1028.0 L1390.3,1028.8 L1391.8,1029.1 L1393.3,1029.3 L1394.8,1029.9 L1396.3,1030.2 L1397.8,1030.3 L1399.3,1030.3 L1400.8,1030.1 L1402.3,1029.8 L1403.8,1029.9 L1405.3,1030.0 L1406.8,1029.4 L1408.3,1028.9 L1409.8,1028.5 L1411.3,1028.2 L1412.8,1027.8 L1414.3,1027.3 L1415.8,1027.4 L1417.3,1027.4 L1418.8,1027.3 L1420.3,1027.1 L1421.8,1027.2 L1423.3,1027.2 L1424.8,1026.7 L1426.3,1026.6 L1427.8,1027.4 L1429.3,1028.2 L1430.8,1028.7 L1432.3,1029.2 L1433.8,1029.2 L1435.3,1029.2 L1436.8,1029.6 L1438.3,1029.7 L1439.8,1029.9 L1441.3,1030.1 L1442.8,1030.2 L1444.3,1030.3 L1445.8,1030.2 L1447.3,1030.1 L1448.8,1030.5 L1450.3,1030.9 L1451.8,1030.9 L1453.3,1031.0 L1454.8,1031.1 L1456.3,1031.3 L1457.8,1030.9 L1459.3,1030.3 L1460.8,1029.9 L1462.3,1029.4 L1463.8,1029.4 L1465.3,1029.3 L1466.8,1028.7 L1468.3,1028.1 L1469.8,1028.0 L1471.3,1028.0 L1472.8,1027.5 L1474.3,1027.0 L1475.8,1027.2 L1477.3,1027.4 L1478.8,1026.2 L1480.3,1024.9 L1481.8,1025.5 L1483.3,1026.3 L1484.8,1026.4 L1486.3,1026.5 L1487.8,1026.3 L1489.3,1026.2 L1490.5,1026.4" fill="none" stroke="#999" stroke-width="2.2" stroke-linejoin="round"/>
<path d="M1061.8,1031.9 L1063.3,1032.2 L1064.8,1033.1 L1066.3,1034.1 L1067.8,1033.4 L1069.3,1030.7 L1070.8,1028.3 L1072.3,1025.9 L1073.8,1025.6 L1075.3,1026.0 L1076.8,1025.9 L1078.3,1025.8 L1079.8,1025.8 L1081.3,1027.0 L1082.8,1029.2 L1084.3,1031.5 L1085.8,1032.6 L1087.3,1032.2 L1088.8,1031.8 L1090.3,1031.4 L1091.8,1031.5 L1093.3,1031.9 L1094.8,1031.5 L1096.3,1031.2 L1097.8,1031.7 L1099.3,1032.2 L1100.8,1032.1 L1102.3,1032.0 L1103.8,1032.4 L1105.3,1032.8 L1106.8,1033.4 L1108.3,1033.9 L1109.8,1033.9 L1111.3,1033.8 L1112.8,1033.5 L1114.3,1033.2 L1115.8,1033.1 L1117.3,1033.0 L1118.8,1032.8 L1120.3,1032.5 L1121.8,1032.3 L1123.3,1032.1 L1124.8,1033.0 L1126.3,1033.8 L1127.8,1035.1 L1129.3,1036.4 L1130.8,1036.3 L1132.3,1035.3 L1133.8,1034.9 L1135.3,1034.5 L1136.8,1033.9 L1138.3,1034.3 L1139.8,1034.5 L1141.3,1034.6 L1142.8,1034.3 L1144.3,1034.0 L1145.8,1035.1 L1147.3,1036.1 L1148.8,1036.5 L1150.3,1037.0 L1151.8,1036.0 L1153.3,1035.0 L1154.8,1034.5 L1156.3,1034.0 L1157.8,1033.8 L1159.3,1033.7 L1160.8,1033.6 L1162.3,1033.5 L1163.8,1033.3 L1165.3,1033.7 L1166.8,1034.2 L1168.3,1034.8 L1169.8,1035.1 L1171.3,1034.8 L1172.8,1034.9 L1174.3,1035.0 L1175.8,1034.7 L1177.3,1034.3 L1178.8,1034.5 L1180.3,1034.8 L1181.8,1034.9 L1183.3,1035.1 L1184.8,1034.8 L1186.3,1034.5 L1187.8,1034.0 L1189.3,1033.4 L1190.8,1033.2 L1192.3,1032.9 L1193.8,1032.7 L1195.3,1032.4 L1196.8,1032.8 L1198.3,1033.9 L1199.8,1034.7 L1201.3,1035.4 L1202.8,1036.1 L1204.3,1036.3 L1205.8,1036.0 L1207.3,1035.8 L1208.8,1035.2 L1210.3,1034.7 L1211.8,1034.4 L1213.3,1034.1 L1214.8,1034.7 L1216.3,1035.3 L1217.8,1034.6 L1219.3,1034.0 L1220.8,1034.6 L1222.3,1035.7 L1223.8,1035.2 L1225.3,1034.6 L1226.8,1035.3 L1228.3,1036.0 L1229.8,1036.1 L1231.3,1036.0 L1232.8,1036.2 L1234.3,1036.4 L1235.8,1036.4 L1237.3,1036.3 L1238.8,1035.9 L1240.3,1035.5 L1241.8,1035.6 L1243.3,1035.8 L1244.8,1035.2 L1246.3,1034.6" fill="none" stroke="#005a9c" stroke-width="2.4" stroke-linejoin="round"/>
<text transform="translate(28.9,803.9) rotate(-90)" font-size="31" text-anchor="middle">Average of</text>
<text transform="translate(65.9,803.9) rotate(-90)" font-size="31" text-anchor="middle">normalized</text>
<text transform="translate(103.5,803.9) rotate(-90)" font-size="31" text-anchor="middle"><tspan font-style="italic">β</tspan><tspan font-size="19" dy="6">n</tspan><tspan dy="-6"> (a.u.)</tspan></text>
<text transform="translate(28.9,991.2) rotate(-90)" font-size="31" text-anchor="middle">Average of</text>
<text transform="translate(65.9,991.2) rotate(-90)" font-size="31" text-anchor="middle">normalized</text>
<text transform="translate(103.5,991.2) rotate(-90)" font-size="31" text-anchor="middle"><tspan font-style="italic">P</tspan><tspan font-size="19" dy="6">n</tspan><tspan dy="-6"> (a.u.)</tspan></text>
<rect x="164.5" y="1086.5" width="63.4" height="31.4" fill="#fbf0f6"/>
<text x="232.7" y="1112.7" font-size="30" textLength="210.7" lengthAdjust="spacing">Stimulus <tspan fill="#222">(Pain)</tspan></text>
<rect x="886.8" y="1087" width="58.2" height="29.5" fill="#eef5fc"/>
<text x="951.5" y="1113.1" font-size="30" textLength="252.6" lengthAdjust="spacing">Stimulus <tspan fill="#222">(Cooling)</tspan></text>
<rect x="1342.2" y="729.2" width="58" height="29.6" fill="#f0f0f0"/>
<text x="1411" y="755.6" font-size="31">S.D.</text>
<rect x="676" y="1078.1" width="86.9" height="3.8" fill="#000"/>
<text x="719.5" y="1113.3" font-size="31" text-anchor="middle">30 s</text>
<rect x="1388" y="1078.1" width="96" height="3.8" fill="#000"/>
<text x="1436" y="1113.3" font-size="31" text-anchor="middle">30 s</text>
</svg></body></html>
